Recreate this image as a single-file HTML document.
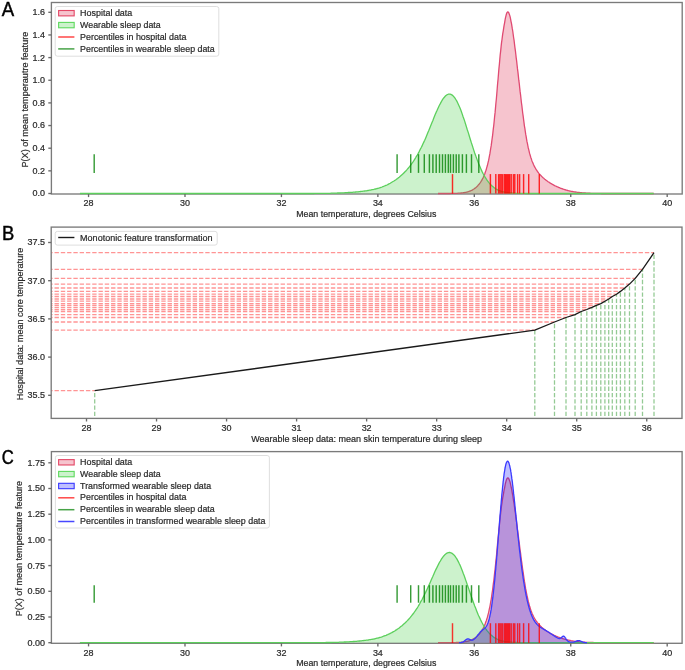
<!DOCTYPE html>
<html><head><meta charset="utf-8"><style>
html,body{margin:0;padding:0;background:#fff;}
body{width:685px;height:670px;overflow:hidden;}
svg{display:block;font-family:"Liberation Sans",sans-serif;will-change:transform;}
</style></head><body>
<svg width="685" height="670" viewBox="0 0 685 670">
<rect width="685" height="670" fill="#fff"/>
<rect x="51.4" y="2.5" width="630.8" height="191.5" fill="none" stroke="#7a7a7a" stroke-width="1.35"/>
<path d="M438.0,193.5 L438.4,193.5 L438.9,193.5 L439.3,193.5 L439.7,193.5 L440.2,193.5 L440.6,193.5 L441.0,193.5 L441.5,193.5 L441.9,193.5 L442.3,193.5 L442.8,193.5 L443.2,193.5 L443.6,193.5 L444.1,193.5 L444.5,193.5 L444.9,193.5 L445.3,193.5 L445.8,193.5 L446.2,193.5 L446.6,193.5 L447.1,193.5 L447.5,193.5 L447.9,193.5 L448.4,193.5 L448.8,193.5 L449.2,193.5 L449.7,193.5 L450.1,193.5 L450.5,193.4 L451.0,193.4 L451.4,193.4 L451.8,193.4 L452.3,193.4 L452.7,193.4 L453.1,193.4 L453.6,193.4 L454.0,193.4 L454.4,193.4 L454.9,193.4 L455.3,193.4 L455.7,193.3 L456.2,193.3 L456.6,193.3 L457.0,193.3 L457.5,193.3 L457.9,193.2 L458.3,193.2 L458.7,193.2 L459.2,193.2 L459.6,193.1 L460.0,193.1 L460.5,193.1 L460.9,193.0 L461.3,193.0 L461.8,192.9 L462.2,192.9 L462.6,192.8 L463.1,192.8 L463.5,192.7 L463.9,192.7 L464.4,192.6 L464.8,192.5 L465.2,192.4 L465.7,192.4 L466.1,192.3 L466.5,192.2 L467.0,192.1 L467.4,191.9 L467.8,191.8 L468.3,191.7 L468.7,191.6 L469.1,191.4 L469.6,191.2 L470.0,191.1 L470.4,190.9 L470.9,190.7 L471.3,190.5 L471.7,190.3 L472.1,190.1 L472.6,189.8 L473.0,189.6 L473.4,189.3 L473.9,189.0 L474.3,188.7 L474.7,188.4 L475.2,188.1 L475.6,187.7 L476.0,187.4 L476.5,187.0 L476.9,186.6 L477.3,186.2 L477.8,185.7 L478.2,185.2 L478.6,184.7 L479.1,184.2 L479.5,183.6 L479.9,183.1 L480.4,182.4 L480.8,181.8 L481.2,181.1 L481.7,180.4 L482.1,179.6 L482.5,178.8 L483.0,178.0 L483.4,177.1 L483.8,176.1 L484.3,175.1 L484.7,174.0 L485.1,172.8 L485.5,171.6 L486.0,170.3 L486.4,168.9 L486.8,167.4 L487.3,165.8 L487.7,164.1 L488.1,162.3 L488.6,160.4 L489.0,158.3 L489.4,156.1 L489.9,153.7 L490.3,151.2 L490.7,148.5 L491.2,145.7 L491.6,142.7 L492.0,139.5 L492.5,136.2 L492.9,132.6 L493.3,128.9 L493.8,125.0 L494.2,121.0 L494.6,116.8 L495.1,112.4 L495.5,107.9 L495.9,103.3 L496.4,98.5 L496.8,93.7 L497.2,88.8 L497.6,83.8 L498.1,78.8 L498.5,73.8 L498.9,68.9 L499.4,64.1 L499.8,59.4 L500.2,54.9 L500.7,50.6 L501.1,46.6 L501.5,42.9 L502.0,39.5 L502.4,36.3 L502.8,33.4 L503.3,30.6 L503.7,27.9 L504.1,25.3 L504.6,22.8 L505.0,20.4 L505.4,18.2 L505.9,16.2 L506.3,14.5 L506.7,13.2 L507.2,12.4 L507.6,11.9 L508.0,11.9 L508.5,12.3 L508.9,13.1 L509.3,14.2 L509.8,15.6 L510.2,17.2 L510.6,19.1 L511.0,21.3 L511.5,23.6 L511.9,26.1 L512.3,28.7 L512.8,31.5 L513.2,34.5 L513.6,37.5 L514.1,40.7 L514.5,44.0 L514.9,47.4 L515.4,50.8 L515.8,54.3 L516.2,57.9 L516.7,61.5 L517.1,65.2 L517.5,68.9 L518.0,72.6 L518.4,76.4 L518.8,80.2 L519.3,83.9 L519.7,87.7 L520.1,91.4 L520.6,95.2 L521.0,98.8 L521.4,102.5 L521.9,106.0 L522.3,109.5 L522.7,113.0 L523.2,116.3 L523.6,119.6 L524.0,122.7 L524.4,125.8 L524.9,128.7 L525.3,131.5 L525.7,134.2 L526.2,136.8 L526.6,139.3 L527.0,141.7 L527.5,143.9 L527.9,146.0 L528.3,148.0 L528.8,149.9 L529.2,151.7 L529.6,153.4 L530.1,155.0 L530.5,156.4 L530.9,157.8 L531.4,159.1 L531.8,160.4 L532.2,161.5 L532.7,162.6 L533.1,163.6 L533.5,164.6 L534.0,165.5 L534.4,166.4 L534.8,167.2 L535.3,168.0 L535.7,168.7 L536.1,169.4 L536.6,170.1 L537.0,170.7 L537.4,171.4 L537.8,172.0 L538.3,172.5 L538.7,173.1 L539.1,173.6 L539.6,174.1 L540.0,174.6 L540.4,175.1 L540.9,175.5 L541.3,176.0 L541.7,176.4 L542.2,176.8 L542.6,177.3 L543.0,177.7 L543.5,178.0 L543.9,178.4 L544.3,178.8 L544.8,179.2 L545.2,179.5 L545.6,179.9 L546.1,180.2 L546.5,180.5 L546.9,180.8 L547.4,181.1 L547.8,181.5 L548.2,181.8 L548.7,182.0 L549.1,182.3 L549.5,182.6 L550.0,182.9 L550.4,183.2 L550.8,183.4 L551.2,183.7 L551.7,183.9 L552.1,184.2 L552.5,184.4 L553.0,184.7 L553.4,184.9 L553.8,185.1 L554.3,185.4 L554.7,185.6 L555.1,185.8 L555.6,186.0 L556.0,186.2 L556.4,186.4 L556.9,186.6 L557.3,186.8 L557.7,187.0 L558.2,187.2 L558.6,187.4 L559.0,187.6 L559.5,187.7 L559.9,187.9 L560.3,188.1 L560.8,188.3 L561.2,188.4 L561.6,188.6 L562.1,188.7 L562.5,188.9 L562.9,189.0 L563.4,189.2 L563.8,189.3 L564.2,189.5 L564.6,189.6 L565.1,189.7 L565.5,189.9 L565.9,190.0 L566.4,190.1 L566.8,190.2 L567.2,190.4 L567.7,190.5 L568.1,190.6 L568.5,190.7 L569.0,190.8 L569.4,190.9 L569.8,191.0 L570.3,191.1 L570.7,191.2 L571.1,191.3 L571.6,191.4 L572.0,191.5 L572.4,191.5 L572.9,191.6 L573.3,191.7 L573.7,191.8 L574.2,191.8 L574.6,191.9 L575.0,192.0 L575.5,192.0 L575.9,192.1 L576.3,192.2 L576.7,192.2 L577.2,192.3 L577.6,192.3 L578.0,192.4 L578.5,192.4 L578.9,192.5 L579.3,192.5 L579.8,192.6 L580.2,192.6 L580.6,192.7 L581.1,192.7 L581.5,192.7 L581.9,192.8 L582.4,192.8 L582.8,192.9 L583.2,192.9 L583.7,192.9 L584.1,192.9 L584.5,193.0 L585.0,193.0 L585.4,193.0 L585.8,193.1 L586.3,193.1 L586.7,193.1 L587.1,193.1 L587.6,193.1 L588.0,193.2 L588.4,193.2 L588.9,193.2 L589.3,193.2 L589.7,193.2 L590.1,193.2 L590.6,193.3 L591.0,193.3 L591.4,193.3 L591.9,193.3 L592.3,193.3 L592.7,193.3 L593.2,193.3 L593.6,193.3 L594.0,193.3 L594.5,193.4 L594.9,193.4 L595.3,193.4 L595.8,193.4 L596.2,193.4 L596.6,193.4 L597.1,193.4 L597.5,193.4 L597.9,193.4 L598.4,193.4 L598.8,193.4 L599.2,193.4 L599.7,193.4 L600.1,193.4 L600.5,193.4 L601.0,193.4 L601.4,193.5 L601.8,193.5 L602.3,193.5 L602.7,193.5 L603.1,193.5 L603.5,193.5 L604.0,193.5 L604.4,193.5 L604.8,193.5 L605.3,193.5 L605.7,193.5 L606.1,193.5 L606.6,193.5 L607.0,193.5 L607.4,193.5 L607.9,193.5 L608.3,193.5 L608.7,193.5 L609.2,193.5 L609.6,193.5 L610.0,193.5 L610.5,193.5 L610.9,193.5 L611.3,193.5 L611.8,193.5 L612.2,193.5 L612.6,193.5 L613.1,193.5 L613.5,193.5 L613.9,193.5 L614.4,193.5 L614.8,193.5 L615.2,193.5 L615.7,193.5 L616.1,193.5 L616.5,193.5 L616.9,193.5 L617.4,193.5 L617.8,193.5 L618.2,193.5 L618.7,193.5 L619.1,193.5 L619.5,193.5 L620.0,193.5 L620.4,193.5 L620.8,193.5 L621.3,193.5 L621.7,193.5 L622.1,193.5 L622.6,193.5 L623.0,193.5 L623.4,193.5 L623.9,193.5 L624.3,193.5 L624.7,193.5 L625.2,193.5 L625.6,193.5 L626.0,193.5 L626.5,193.5 L626.9,193.5 L627.3,193.5 L627.8,193.5 L628.2,193.5 L628.6,193.5 L629.1,193.5 L629.5,193.5 L629.9,193.5 L630.3,193.5 L630.8,193.5 L631.2,193.5 L631.6,193.5 L632.1,193.5 L632.5,193.5 L632.9,193.5 L633.4,193.5 L633.8,193.5 L634.2,193.5 L634.7,193.5 L635.1,193.5 L635.5,193.5 L636.0,193.5 L636.4,193.5 L636.8,193.5 L637.3,193.5 L637.7,193.5 L638.1,193.5 L638.6,193.5 L639.0,193.5 L639.4,193.5 L639.9,193.5 L640.3,193.5 L640.7,193.5 L641.2,193.5 L641.6,193.5 L642.0,193.5 L642.5,193.5 L642.9,193.5 L643.3,193.5 L643.7,193.5 L644.2,193.5 L644.6,193.5 L645.0,193.5 L645.5,193.5 L645.9,193.5 L646.3,193.5 L646.8,193.5 L647.2,193.5 L647.6,193.5 L648.1,193.5 L648.5,193.5 L648.9,193.5 L649.4,193.5 L649.8,193.5 L650.2,193.5 L650.7,193.5 L651.1,193.5 L651.5,193.5 L652.0,193.5 L652.4,193.5 L652.8,193.5 L653.3,193.5 L653.7,193.5 L653.69,193.5 L438,193.5 Z" fill="#dc143c" fill-opacity="0.25" stroke="none"/>
<path d="M438.0,193.5 L438.4,193.5 L438.9,193.5 L439.3,193.5 L439.7,193.5 L440.2,193.5 L440.6,193.5 L441.0,193.5 L441.5,193.5 L441.9,193.5 L442.3,193.5 L442.8,193.5 L443.2,193.5 L443.6,193.5 L444.1,193.5 L444.5,193.5 L444.9,193.5 L445.3,193.5 L445.8,193.5 L446.2,193.5 L446.6,193.5 L447.1,193.5 L447.5,193.5 L447.9,193.5 L448.4,193.5 L448.8,193.5 L449.2,193.5 L449.7,193.5 L450.1,193.5 L450.5,193.4 L451.0,193.4 L451.4,193.4 L451.8,193.4 L452.3,193.4 L452.7,193.4 L453.1,193.4 L453.6,193.4 L454.0,193.4 L454.4,193.4 L454.9,193.4 L455.3,193.4 L455.7,193.3 L456.2,193.3 L456.6,193.3 L457.0,193.3 L457.5,193.3 L457.9,193.2 L458.3,193.2 L458.7,193.2 L459.2,193.2 L459.6,193.1 L460.0,193.1 L460.5,193.1 L460.9,193.0 L461.3,193.0 L461.8,192.9 L462.2,192.9 L462.6,192.8 L463.1,192.8 L463.5,192.7 L463.9,192.7 L464.4,192.6 L464.8,192.5 L465.2,192.4 L465.7,192.4 L466.1,192.3 L466.5,192.2 L467.0,192.1 L467.4,191.9 L467.8,191.8 L468.3,191.7 L468.7,191.6 L469.1,191.4 L469.6,191.2 L470.0,191.1 L470.4,190.9 L470.9,190.7 L471.3,190.5 L471.7,190.3 L472.1,190.1 L472.6,189.8 L473.0,189.6 L473.4,189.3 L473.9,189.0 L474.3,188.7 L474.7,188.4 L475.2,188.1 L475.6,187.7 L476.0,187.4 L476.5,187.0 L476.9,186.6 L477.3,186.2 L477.8,185.7 L478.2,185.2 L478.6,184.7 L479.1,184.2 L479.5,183.6 L479.9,183.1 L480.4,182.4 L480.8,181.8 L481.2,181.1 L481.7,180.4 L482.1,179.6 L482.5,178.8 L483.0,178.0 L483.4,177.1 L483.8,176.1 L484.3,175.1 L484.7,174.0 L485.1,172.8 L485.5,171.6 L486.0,170.3 L486.4,168.9 L486.8,167.4 L487.3,165.8 L487.7,164.1 L488.1,162.3 L488.6,160.4 L489.0,158.3 L489.4,156.1 L489.9,153.7 L490.3,151.2 L490.7,148.5 L491.2,145.7 L491.6,142.7 L492.0,139.5 L492.5,136.2 L492.9,132.6 L493.3,128.9 L493.8,125.0 L494.2,121.0 L494.6,116.8 L495.1,112.4 L495.5,107.9 L495.9,103.3 L496.4,98.5 L496.8,93.7 L497.2,88.8 L497.6,83.8 L498.1,78.8 L498.5,73.8 L498.9,68.9 L499.4,64.1 L499.8,59.4 L500.2,54.9 L500.7,50.6 L501.1,46.6 L501.5,42.9 L502.0,39.5 L502.4,36.3 L502.8,33.4 L503.3,30.6 L503.7,27.9 L504.1,25.3 L504.6,22.8 L505.0,20.4 L505.4,18.2 L505.9,16.2 L506.3,14.5 L506.7,13.2 L507.2,12.4 L507.6,11.9 L508.0,11.9 L508.5,12.3 L508.9,13.1 L509.3,14.2 L509.8,15.6 L510.2,17.2 L510.6,19.1 L511.0,21.3 L511.5,23.6 L511.9,26.1 L512.3,28.7 L512.8,31.5 L513.2,34.5 L513.6,37.5 L514.1,40.7 L514.5,44.0 L514.9,47.4 L515.4,50.8 L515.8,54.3 L516.2,57.9 L516.7,61.5 L517.1,65.2 L517.5,68.9 L518.0,72.6 L518.4,76.4 L518.8,80.2 L519.3,83.9 L519.7,87.7 L520.1,91.4 L520.6,95.2 L521.0,98.8 L521.4,102.5 L521.9,106.0 L522.3,109.5 L522.7,113.0 L523.2,116.3 L523.6,119.6 L524.0,122.7 L524.4,125.8 L524.9,128.7 L525.3,131.5 L525.7,134.2 L526.2,136.8 L526.6,139.3 L527.0,141.7 L527.5,143.9 L527.9,146.0 L528.3,148.0 L528.8,149.9 L529.2,151.7 L529.6,153.4 L530.1,155.0 L530.5,156.4 L530.9,157.8 L531.4,159.1 L531.8,160.4 L532.2,161.5 L532.7,162.6 L533.1,163.6 L533.5,164.6 L534.0,165.5 L534.4,166.4 L534.8,167.2 L535.3,168.0 L535.7,168.7 L536.1,169.4 L536.6,170.1 L537.0,170.7 L537.4,171.4 L537.8,172.0 L538.3,172.5 L538.7,173.1 L539.1,173.6 L539.6,174.1 L540.0,174.6 L540.4,175.1 L540.9,175.5 L541.3,176.0 L541.7,176.4 L542.2,176.8 L542.6,177.3 L543.0,177.7 L543.5,178.0 L543.9,178.4 L544.3,178.8 L544.8,179.2 L545.2,179.5 L545.6,179.9 L546.1,180.2 L546.5,180.5 L546.9,180.8 L547.4,181.1 L547.8,181.5 L548.2,181.8 L548.7,182.0 L549.1,182.3 L549.5,182.6 L550.0,182.9 L550.4,183.2 L550.8,183.4 L551.2,183.7 L551.7,183.9 L552.1,184.2 L552.5,184.4 L553.0,184.7 L553.4,184.9 L553.8,185.1 L554.3,185.4 L554.7,185.6 L555.1,185.8 L555.6,186.0 L556.0,186.2 L556.4,186.4 L556.9,186.6 L557.3,186.8 L557.7,187.0 L558.2,187.2 L558.6,187.4 L559.0,187.6 L559.5,187.7 L559.9,187.9 L560.3,188.1 L560.8,188.3 L561.2,188.4 L561.6,188.6 L562.1,188.7 L562.5,188.9 L562.9,189.0 L563.4,189.2 L563.8,189.3 L564.2,189.5 L564.6,189.6 L565.1,189.7 L565.5,189.9 L565.9,190.0 L566.4,190.1 L566.8,190.2 L567.2,190.4 L567.7,190.5 L568.1,190.6 L568.5,190.7 L569.0,190.8 L569.4,190.9 L569.8,191.0 L570.3,191.1 L570.7,191.2 L571.1,191.3 L571.6,191.4 L572.0,191.5 L572.4,191.5 L572.9,191.6 L573.3,191.7 L573.7,191.8 L574.2,191.8 L574.6,191.9 L575.0,192.0 L575.5,192.0 L575.9,192.1 L576.3,192.2 L576.7,192.2 L577.2,192.3 L577.6,192.3 L578.0,192.4 L578.5,192.4 L578.9,192.5 L579.3,192.5 L579.8,192.6 L580.2,192.6 L580.6,192.7 L581.1,192.7 L581.5,192.7 L581.9,192.8 L582.4,192.8 L582.8,192.9 L583.2,192.9 L583.7,192.9 L584.1,192.9 L584.5,193.0 L585.0,193.0 L585.4,193.0 L585.8,193.1 L586.3,193.1 L586.7,193.1 L587.1,193.1 L587.6,193.1 L588.0,193.2 L588.4,193.2 L588.9,193.2 L589.3,193.2 L589.7,193.2 L590.1,193.2 L590.6,193.3 L591.0,193.3 L591.4,193.3 L591.9,193.3 L592.3,193.3 L592.7,193.3 L593.2,193.3 L593.6,193.3 L594.0,193.3 L594.5,193.4 L594.9,193.4 L595.3,193.4 L595.8,193.4 L596.2,193.4 L596.6,193.4 L597.1,193.4 L597.5,193.4 L597.9,193.4 L598.4,193.4 L598.8,193.4 L599.2,193.4 L599.7,193.4 L600.1,193.4 L600.5,193.4 L601.0,193.4 L601.4,193.5 L601.8,193.5 L602.3,193.5 L602.7,193.5 L603.1,193.5 L603.5,193.5 L604.0,193.5 L604.4,193.5 L604.8,193.5 L605.3,193.5 L605.7,193.5 L606.1,193.5 L606.6,193.5 L607.0,193.5 L607.4,193.5 L607.9,193.5 L608.3,193.5 L608.7,193.5 L609.2,193.5 L609.6,193.5 L610.0,193.5 L610.5,193.5 L610.9,193.5 L611.3,193.5 L611.8,193.5 L612.2,193.5 L612.6,193.5 L613.1,193.5 L613.5,193.5 L613.9,193.5 L614.4,193.5 L614.8,193.5 L615.2,193.5 L615.7,193.5 L616.1,193.5 L616.5,193.5 L616.9,193.5 L617.4,193.5 L617.8,193.5 L618.2,193.5 L618.7,193.5 L619.1,193.5 L619.5,193.5 L620.0,193.5 L620.4,193.5 L620.8,193.5 L621.3,193.5 L621.7,193.5 L622.1,193.5 L622.6,193.5 L623.0,193.5 L623.4,193.5 L623.9,193.5 L624.3,193.5 L624.7,193.5 L625.2,193.5 L625.6,193.5 L626.0,193.5 L626.5,193.5 L626.9,193.5 L627.3,193.5 L627.8,193.5 L628.2,193.5 L628.6,193.5 L629.1,193.5 L629.5,193.5 L629.9,193.5 L630.3,193.5 L630.8,193.5 L631.2,193.5 L631.6,193.5 L632.1,193.5 L632.5,193.5 L632.9,193.5 L633.4,193.5 L633.8,193.5 L634.2,193.5 L634.7,193.5 L635.1,193.5 L635.5,193.5 L636.0,193.5 L636.4,193.5 L636.8,193.5 L637.3,193.5 L637.7,193.5 L638.1,193.5 L638.6,193.5 L639.0,193.5 L639.4,193.5 L639.9,193.5 L640.3,193.5 L640.7,193.5 L641.2,193.5 L641.6,193.5 L642.0,193.5 L642.5,193.5 L642.9,193.5 L643.3,193.5 L643.7,193.5 L644.2,193.5 L644.6,193.5 L645.0,193.5 L645.5,193.5 L645.9,193.5 L646.3,193.5 L646.8,193.5 L647.2,193.5 L647.6,193.5 L648.1,193.5 L648.5,193.5 L648.9,193.5 L649.4,193.5 L649.8,193.5 L650.2,193.5 L650.7,193.5 L651.1,193.5 L651.5,193.5 L652.0,193.5 L652.4,193.5 L652.8,193.5 L653.3,193.5 L653.7,193.5" fill="none" stroke="#e04a72" stroke-width="1.3" stroke-opacity="1.0" stroke-linejoin="round"/>
<path d="M79.9,193.5 L80.7,193.5 L81.5,193.5 L82.3,193.5 L83.2,193.5 L84.0,193.5 L84.8,193.5 L85.6,193.5 L86.4,193.5 L87.3,193.5 L88.1,193.5 L88.9,193.5 L89.7,193.5 L90.5,193.5 L91.4,193.5 L92.2,193.5 L93.0,193.5 L93.8,193.5 L94.6,193.5 L95.5,193.5 L96.3,193.5 L97.1,193.5 L97.9,193.5 L98.8,193.5 L99.6,193.5 L100.4,193.5 L101.2,193.5 L102.0,193.5 L102.9,193.5 L103.7,193.5 L104.5,193.5 L105.3,193.5 L106.1,193.5 L107.0,193.5 L107.8,193.5 L108.6,193.5 L109.4,193.5 L110.2,193.5 L111.1,193.5 L111.9,193.5 L112.7,193.5 L113.5,193.5 L114.3,193.5 L115.2,193.5 L116.0,193.5 L116.8,193.5 L117.6,193.5 L118.5,193.5 L119.3,193.5 L120.1,193.5 L120.9,193.5 L121.7,193.5 L122.6,193.5 L123.4,193.5 L124.2,193.5 L125.0,193.5 L125.8,193.5 L126.7,193.5 L127.5,193.5 L128.3,193.5 L129.1,193.5 L129.9,193.5 L130.8,193.5 L131.6,193.5 L132.4,193.5 L133.2,193.5 L134.1,193.5 L134.9,193.5 L135.7,193.5 L136.5,193.5 L137.3,193.5 L138.2,193.5 L139.0,193.5 L139.8,193.5 L140.6,193.5 L141.4,193.5 L142.3,193.5 L143.1,193.5 L143.9,193.5 L144.7,193.5 L145.5,193.5 L146.4,193.5 L147.2,193.5 L148.0,193.5 L148.8,193.5 L149.6,193.5 L150.5,193.5 L151.3,193.5 L152.1,193.5 L152.9,193.5 L153.8,193.5 L154.6,193.5 L155.4,193.5 L156.2,193.5 L157.0,193.5 L157.9,193.5 L158.7,193.5 L159.5,193.5 L160.3,193.5 L161.1,193.5 L162.0,193.5 L162.8,193.5 L163.6,193.5 L164.4,193.5 L165.2,193.5 L166.1,193.5 L166.9,193.5 L167.7,193.5 L168.5,193.5 L169.3,193.5 L170.2,193.5 L171.0,193.5 L171.8,193.5 L172.6,193.5 L173.5,193.5 L174.3,193.5 L175.1,193.5 L175.9,193.5 L176.7,193.5 L177.6,193.5 L178.4,193.5 L179.2,193.5 L180.0,193.5 L180.8,193.5 L181.7,193.5 L182.5,193.5 L183.3,193.5 L184.1,193.5 L184.9,193.5 L185.8,193.5 L186.6,193.5 L187.4,193.5 L188.2,193.5 L189.1,193.5 L189.9,193.5 L190.7,193.5 L191.5,193.5 L192.3,193.5 L193.2,193.5 L194.0,193.5 L194.8,193.5 L195.6,193.5 L196.4,193.5 L197.3,193.5 L198.1,193.5 L198.9,193.5 L199.7,193.5 L200.5,193.5 L201.4,193.5 L202.2,193.5 L203.0,193.5 L203.8,193.5 L204.6,193.5 L205.5,193.5 L206.3,193.5 L207.1,193.5 L207.9,193.5 L208.8,193.5 L209.6,193.5 L210.4,193.5 L211.2,193.5 L212.0,193.5 L212.9,193.5 L213.7,193.5 L214.5,193.5 L215.3,193.5 L216.1,193.5 L217.0,193.5 L217.8,193.5 L218.6,193.5 L219.4,193.5 L220.2,193.5 L221.1,193.5 L221.9,193.5 L222.7,193.5 L223.5,193.5 L224.4,193.5 L225.2,193.5 L226.0,193.5 L226.8,193.5 L227.6,193.5 L228.5,193.5 L229.3,193.5 L230.1,193.5 L230.9,193.5 L231.7,193.5 L232.6,193.5 L233.4,193.5 L234.2,193.5 L235.0,193.5 L235.8,193.5 L236.7,193.5 L237.5,193.5 L238.3,193.5 L239.1,193.5 L239.9,193.5 L240.8,193.5 L241.6,193.5 L242.4,193.5 L243.2,193.5 L244.1,193.5 L244.9,193.5 L245.7,193.5 L246.5,193.5 L247.3,193.5 L248.2,193.5 L249.0,193.5 L249.8,193.5 L250.6,193.5 L251.4,193.5 L252.3,193.5 L253.1,193.5 L253.9,193.5 L254.7,193.5 L255.5,193.5 L256.4,193.5 L257.2,193.5 L258.0,193.5 L258.8,193.5 L259.7,193.5 L260.5,193.5 L261.3,193.5 L262.1,193.5 L262.9,193.5 L263.8,193.5 L264.6,193.5 L265.4,193.5 L266.2,193.5 L267.0,193.5 L267.9,193.5 L268.7,193.5 L269.5,193.5 L270.3,193.5 L271.1,193.5 L272.0,193.5 L272.8,193.5 L273.6,193.5 L274.4,193.5 L275.2,193.5 L276.1,193.5 L276.9,193.5 L277.7,193.5 L278.5,193.5 L279.4,193.5 L280.2,193.5 L281.0,193.5 L281.8,193.5 L282.6,193.5 L283.5,193.5 L284.3,193.5 L285.1,193.5 L285.9,193.5 L286.7,193.5 L287.6,193.5 L288.4,193.5 L289.2,193.5 L290.0,193.5 L290.8,193.5 L291.7,193.5 L292.5,193.5 L293.3,193.5 L294.1,193.5 L294.9,193.5 L295.8,193.5 L296.6,193.5 L297.4,193.5 L298.2,193.5 L299.1,193.5 L299.9,193.5 L300.7,193.5 L301.5,193.5 L302.3,193.5 L303.2,193.5 L304.0,193.5 L304.8,193.5 L305.6,193.5 L306.4,193.5 L307.3,193.5 L308.1,193.5 L308.9,193.5 L309.7,193.5 L310.5,193.5 L311.4,193.5 L312.2,193.5 L313.0,193.5 L313.8,193.5 L314.7,193.4 L315.5,193.4 L316.3,193.4 L317.1,193.4 L317.9,193.4 L318.8,193.4 L319.6,193.4 L320.4,193.4 L321.2,193.4 L322.0,193.4 L322.9,193.4 L323.7,193.4 L324.5,193.4 L325.3,193.3 L326.1,193.3 L327.0,193.3 L327.8,193.3 L328.6,193.3 L329.4,193.3 L330.2,193.3 L331.1,193.2 L331.9,193.2 L332.7,193.2 L333.5,193.2 L334.4,193.1 L335.2,193.1 L336.0,193.1 L336.8,193.1 L337.6,193.0 L338.5,193.0 L339.3,193.0 L340.1,193.0 L340.9,192.9 L341.7,192.9 L342.6,192.8 L343.4,192.8 L344.2,192.8 L345.0,192.7 L345.8,192.7 L346.7,192.6 L347.5,192.6 L348.3,192.5 L349.1,192.5 L350.0,192.4 L350.8,192.4 L351.6,192.3 L352.4,192.3 L353.2,192.2 L354.1,192.1 L354.9,192.1 L355.7,192.0 L356.5,191.9 L357.3,191.8 L358.2,191.8 L359.0,191.7 L359.8,191.6 L360.6,191.5 L361.4,191.4 L362.3,191.3 L363.1,191.2 L363.9,191.1 L364.7,191.0 L365.5,190.9 L366.4,190.8 L367.2,190.6 L368.0,190.5 L368.8,190.4 L369.7,190.2 L370.5,190.1 L371.3,189.9 L372.1,189.7 L372.9,189.6 L373.8,189.4 L374.6,189.2 L375.4,189.0 L376.2,188.8 L377.0,188.5 L377.9,188.3 L378.7,188.1 L379.5,187.8 L380.3,187.6 L381.1,187.3 L382.0,187.0 L382.8,186.7 L383.6,186.4 L384.4,186.0 L385.2,185.7 L386.1,185.3 L386.9,185.0 L387.7,184.6 L388.5,184.1 L389.4,183.7 L390.2,183.3 L391.0,182.8 L391.8,182.3 L392.6,181.8 L393.5,181.3 L394.3,180.8 L395.1,180.2 L395.9,179.7 L396.7,179.1 L397.6,178.5 L398.4,177.8 L399.2,177.2 L400.0,176.5 L400.8,175.8 L401.7,175.0 L402.5,174.3 L403.3,173.5 L404.1,172.7 L405.0,171.8 L405.8,171.0 L406.6,170.1 L407.4,169.1 L408.2,168.2 L409.1,167.2 L409.9,166.1 L410.7,165.1 L411.5,164.0 L412.3,162.8 L413.2,161.6 L414.0,160.4 L414.8,159.1 L415.6,157.8 L416.4,156.4 L417.3,155.0 L418.1,153.6 L418.9,152.1 L419.7,150.5 L420.5,148.9 L421.4,147.3 L422.2,145.6 L423.0,143.8 L423.8,142.1 L424.7,140.2 L425.5,138.4 L426.3,136.5 L427.1,134.5 L427.9,132.5 L428.8,130.5 L429.6,128.5 L430.4,126.5 L431.2,124.4 L432.0,122.4 L432.9,120.4 L433.7,118.3 L434.5,116.3 L435.3,114.3 L436.1,112.4 L437.0,110.5 L437.8,108.7 L438.6,106.9 L439.4,105.2 L440.3,103.6 L441.1,102.1 L441.9,100.7 L442.7,99.4 L443.5,98.2 L444.4,97.2 L445.2,96.3 L446.0,95.5 L446.8,94.9 L447.6,94.5 L448.5,94.2 L449.3,94.1 L450.1,94.2 L450.9,94.4 L451.7,94.8 L452.6,95.4 L453.4,96.2 L454.2,97.1 L455.0,98.2 L455.8,99.5 L456.7,100.9 L457.5,102.5 L458.3,104.2 L459.1,106.0 L460.0,108.0 L460.8,110.1 L461.6,112.3 L462.4,114.6 L463.2,117.0 L464.1,119.4 L464.9,121.9 L465.7,124.5 L466.5,127.1 L467.3,129.7 L468.2,132.4 L469.0,135.0 L469.8,137.7 L470.6,140.3 L471.4,142.9 L472.3,145.5 L473.1,148.1 L473.9,150.6 L474.7,153.0 L475.6,155.4 L476.4,157.7 L477.2,159.9 L478.0,162.1 L478.8,164.1 L479.7,166.1 L480.5,168.0 L481.3,169.9 L482.1,171.6 L482.9,173.2 L483.8,174.8 L484.6,176.3 L485.4,177.6 L486.2,178.9 L487.0,180.2 L487.9,181.3 L488.7,182.4 L489.5,183.4 L490.3,184.3 L491.1,185.1 L492.0,185.9 L492.8,186.6 L493.6,187.3 L494.4,187.9 L495.3,188.5 L496.1,189.0 L496.9,189.4 L497.7,189.9 L498.5,190.3 L499.4,190.6 L500.2,190.9 L501.0,191.2 L501.8,191.5 L502.6,191.7 L503.5,191.9 L504.3,192.1 L505.1,192.2 L505.9,192.4 L506.7,192.5 L507.6,192.6 L508.4,192.7 L509.2,192.8 L510.0,192.9 L510.8,193.0 L511.7,193.0 L512.5,193.1 L513.3,193.2 L514.1,193.2 L515.0,193.2 L515.8,193.3 L516.6,193.3 L517.4,193.3 L518.2,193.3 L519.1,193.4 L519.9,193.4 L520.7,193.4 L521.5,193.4 L522.3,193.4 L523.2,193.4 L524.0,193.4 L524.8,193.4 L525.6,193.5 L526.4,193.5 L527.3,193.5 L528.1,193.5 L528.9,193.5 L529.7,193.5 L530.6,193.5 L531.4,193.5 L532.2,193.5 L533.0,193.5 L533.8,193.5 L534.7,193.5 L535.5,193.5 L536.3,193.5 L537.1,193.5 L537.9,193.5 L538.8,193.5 L539.6,193.5 L540.4,193.5 L541.2,193.5 L542.0,193.5 L542.9,193.5 L543.7,193.5 L544.5,193.5 L545.3,193.5 L546.1,193.5 L547.0,193.5 L547.8,193.5 L548.6,193.5 L549.4,193.5 L550.3,193.5 L551.1,193.5 L551.9,193.5 L552.7,193.5 L553.5,193.5 L554.4,193.5 L555.2,193.5 L556.0,193.5 L556.8,193.5 L557.6,193.5 L558.5,193.5 L559.3,193.5 L560.1,193.5 L560.9,193.5 L561.7,193.5 L562.6,193.5 L563.4,193.5 L564.2,193.5 L565.0,193.5 L565.9,193.5 L566.7,193.5 L567.5,193.5 L568.3,193.5 L569.1,193.5 L570.0,193.5 L570.8,193.5 L571.6,193.5 L572.4,193.5 L573.2,193.5 L574.1,193.5 L574.9,193.5 L575.7,193.5 L576.5,193.5 L577.3,193.5 L578.2,193.5 L579.0,193.5 L579.8,193.5 L580.6,193.5 L581.4,193.5 L582.3,193.5 L583.1,193.5 L583.9,193.5 L584.7,193.5 L585.6,193.5 L586.4,193.5 L587.2,193.5 L588.0,193.5 L588.8,193.5 L589.7,193.5 L590.5,193.5 L591.3,193.5 L592.1,193.5 L592.9,193.5 L593.8,193.5 L594.6,193.5 L595.4,193.5 L596.2,193.5 L597.0,193.5 L597.9,193.5 L598.7,193.5 L599.5,193.5 L600.3,193.5 L601.1,193.5 L602.0,193.5 L602.8,193.5 L603.6,193.5 L604.4,193.5 L605.3,193.5 L606.1,193.5 L606.9,193.5 L607.7,193.5 L608.5,193.5 L609.4,193.5 L610.2,193.5 L611.0,193.5 L611.8,193.5 L612.6,193.5 L613.5,193.5 L614.3,193.5 L615.1,193.5 L615.9,193.5 L616.7,193.5 L617.6,193.5 L618.4,193.5 L619.2,193.5 L620.0,193.5 L620.9,193.5 L621.7,193.5 L622.5,193.5 L623.3,193.5 L624.1,193.5 L625.0,193.5 L625.8,193.5 L626.6,193.5 L627.4,193.5 L628.2,193.5 L629.1,193.5 L629.9,193.5 L630.7,193.5 L631.5,193.5 L632.3,193.5 L633.2,193.5 L634.0,193.5 L634.8,193.5 L635.6,193.5 L636.4,193.5 L637.3,193.5 L638.1,193.5 L638.9,193.5 L639.7,193.5 L640.6,193.5 L641.4,193.5 L642.2,193.5 L643.0,193.5 L643.8,193.5 L644.7,193.5 L645.5,193.5 L646.3,193.5 L647.1,193.5 L647.9,193.5 L648.8,193.5 L649.6,193.5 L650.4,193.5 L651.2,193.5 L652.0,193.5 L652.9,193.5 L653.7,193.5 L653.69,193.5 L79.87,193.5 Z" fill="#32cd32" fill-opacity="0.25" stroke="none"/>
<path d="M79.9,193.5 L80.7,193.5 L81.5,193.5 L82.3,193.5 L83.2,193.5 L84.0,193.5 L84.8,193.5 L85.6,193.5 L86.4,193.5 L87.3,193.5 L88.1,193.5 L88.9,193.5 L89.7,193.5 L90.5,193.5 L91.4,193.5 L92.2,193.5 L93.0,193.5 L93.8,193.5 L94.6,193.5 L95.5,193.5 L96.3,193.5 L97.1,193.5 L97.9,193.5 L98.8,193.5 L99.6,193.5 L100.4,193.5 L101.2,193.5 L102.0,193.5 L102.9,193.5 L103.7,193.5 L104.5,193.5 L105.3,193.5 L106.1,193.5 L107.0,193.5 L107.8,193.5 L108.6,193.5 L109.4,193.5 L110.2,193.5 L111.1,193.5 L111.9,193.5 L112.7,193.5 L113.5,193.5 L114.3,193.5 L115.2,193.5 L116.0,193.5 L116.8,193.5 L117.6,193.5 L118.5,193.5 L119.3,193.5 L120.1,193.5 L120.9,193.5 L121.7,193.5 L122.6,193.5 L123.4,193.5 L124.2,193.5 L125.0,193.5 L125.8,193.5 L126.7,193.5 L127.5,193.5 L128.3,193.5 L129.1,193.5 L129.9,193.5 L130.8,193.5 L131.6,193.5 L132.4,193.5 L133.2,193.5 L134.1,193.5 L134.9,193.5 L135.7,193.5 L136.5,193.5 L137.3,193.5 L138.2,193.5 L139.0,193.5 L139.8,193.5 L140.6,193.5 L141.4,193.5 L142.3,193.5 L143.1,193.5 L143.9,193.5 L144.7,193.5 L145.5,193.5 L146.4,193.5 L147.2,193.5 L148.0,193.5 L148.8,193.5 L149.6,193.5 L150.5,193.5 L151.3,193.5 L152.1,193.5 L152.9,193.5 L153.8,193.5 L154.6,193.5 L155.4,193.5 L156.2,193.5 L157.0,193.5 L157.9,193.5 L158.7,193.5 L159.5,193.5 L160.3,193.5 L161.1,193.5 L162.0,193.5 L162.8,193.5 L163.6,193.5 L164.4,193.5 L165.2,193.5 L166.1,193.5 L166.9,193.5 L167.7,193.5 L168.5,193.5 L169.3,193.5 L170.2,193.5 L171.0,193.5 L171.8,193.5 L172.6,193.5 L173.5,193.5 L174.3,193.5 L175.1,193.5 L175.9,193.5 L176.7,193.5 L177.6,193.5 L178.4,193.5 L179.2,193.5 L180.0,193.5 L180.8,193.5 L181.7,193.5 L182.5,193.5 L183.3,193.5 L184.1,193.5 L184.9,193.5 L185.8,193.5 L186.6,193.5 L187.4,193.5 L188.2,193.5 L189.1,193.5 L189.9,193.5 L190.7,193.5 L191.5,193.5 L192.3,193.5 L193.2,193.5 L194.0,193.5 L194.8,193.5 L195.6,193.5 L196.4,193.5 L197.3,193.5 L198.1,193.5 L198.9,193.5 L199.7,193.5 L200.5,193.5 L201.4,193.5 L202.2,193.5 L203.0,193.5 L203.8,193.5 L204.6,193.5 L205.5,193.5 L206.3,193.5 L207.1,193.5 L207.9,193.5 L208.8,193.5 L209.6,193.5 L210.4,193.5 L211.2,193.5 L212.0,193.5 L212.9,193.5 L213.7,193.5 L214.5,193.5 L215.3,193.5 L216.1,193.5 L217.0,193.5 L217.8,193.5 L218.6,193.5 L219.4,193.5 L220.2,193.5 L221.1,193.5 L221.9,193.5 L222.7,193.5 L223.5,193.5 L224.4,193.5 L225.2,193.5 L226.0,193.5 L226.8,193.5 L227.6,193.5 L228.5,193.5 L229.3,193.5 L230.1,193.5 L230.9,193.5 L231.7,193.5 L232.6,193.5 L233.4,193.5 L234.2,193.5 L235.0,193.5 L235.8,193.5 L236.7,193.5 L237.5,193.5 L238.3,193.5 L239.1,193.5 L239.9,193.5 L240.8,193.5 L241.6,193.5 L242.4,193.5 L243.2,193.5 L244.1,193.5 L244.9,193.5 L245.7,193.5 L246.5,193.5 L247.3,193.5 L248.2,193.5 L249.0,193.5 L249.8,193.5 L250.6,193.5 L251.4,193.5 L252.3,193.5 L253.1,193.5 L253.9,193.5 L254.7,193.5 L255.5,193.5 L256.4,193.5 L257.2,193.5 L258.0,193.5 L258.8,193.5 L259.7,193.5 L260.5,193.5 L261.3,193.5 L262.1,193.5 L262.9,193.5 L263.8,193.5 L264.6,193.5 L265.4,193.5 L266.2,193.5 L267.0,193.5 L267.9,193.5 L268.7,193.5 L269.5,193.5 L270.3,193.5 L271.1,193.5 L272.0,193.5 L272.8,193.5 L273.6,193.5 L274.4,193.5 L275.2,193.5 L276.1,193.5 L276.9,193.5 L277.7,193.5 L278.5,193.5 L279.4,193.5 L280.2,193.5 L281.0,193.5 L281.8,193.5 L282.6,193.5 L283.5,193.5 L284.3,193.5 L285.1,193.5 L285.9,193.5 L286.7,193.5 L287.6,193.5 L288.4,193.5 L289.2,193.5 L290.0,193.5 L290.8,193.5 L291.7,193.5 L292.5,193.5 L293.3,193.5 L294.1,193.5 L294.9,193.5 L295.8,193.5 L296.6,193.5 L297.4,193.5 L298.2,193.5 L299.1,193.5 L299.9,193.5 L300.7,193.5 L301.5,193.5 L302.3,193.5 L303.2,193.5 L304.0,193.5 L304.8,193.5 L305.6,193.5 L306.4,193.5 L307.3,193.5 L308.1,193.5 L308.9,193.5 L309.7,193.5 L310.5,193.5 L311.4,193.5 L312.2,193.5 L313.0,193.5 L313.8,193.5 L314.7,193.4 L315.5,193.4 L316.3,193.4 L317.1,193.4 L317.9,193.4 L318.8,193.4 L319.6,193.4 L320.4,193.4 L321.2,193.4 L322.0,193.4 L322.9,193.4 L323.7,193.4 L324.5,193.4 L325.3,193.3 L326.1,193.3 L327.0,193.3 L327.8,193.3 L328.6,193.3 L329.4,193.3 L330.2,193.3 L331.1,193.2 L331.9,193.2 L332.7,193.2 L333.5,193.2 L334.4,193.1 L335.2,193.1 L336.0,193.1 L336.8,193.1 L337.6,193.0 L338.5,193.0 L339.3,193.0 L340.1,193.0 L340.9,192.9 L341.7,192.9 L342.6,192.8 L343.4,192.8 L344.2,192.8 L345.0,192.7 L345.8,192.7 L346.7,192.6 L347.5,192.6 L348.3,192.5 L349.1,192.5 L350.0,192.4 L350.8,192.4 L351.6,192.3 L352.4,192.3 L353.2,192.2 L354.1,192.1 L354.9,192.1 L355.7,192.0 L356.5,191.9 L357.3,191.8 L358.2,191.8 L359.0,191.7 L359.8,191.6 L360.6,191.5 L361.4,191.4 L362.3,191.3 L363.1,191.2 L363.9,191.1 L364.7,191.0 L365.5,190.9 L366.4,190.8 L367.2,190.6 L368.0,190.5 L368.8,190.4 L369.7,190.2 L370.5,190.1 L371.3,189.9 L372.1,189.7 L372.9,189.6 L373.8,189.4 L374.6,189.2 L375.4,189.0 L376.2,188.8 L377.0,188.5 L377.9,188.3 L378.7,188.1 L379.5,187.8 L380.3,187.6 L381.1,187.3 L382.0,187.0 L382.8,186.7 L383.6,186.4 L384.4,186.0 L385.2,185.7 L386.1,185.3 L386.9,185.0 L387.7,184.6 L388.5,184.1 L389.4,183.7 L390.2,183.3 L391.0,182.8 L391.8,182.3 L392.6,181.8 L393.5,181.3 L394.3,180.8 L395.1,180.2 L395.9,179.7 L396.7,179.1 L397.6,178.5 L398.4,177.8 L399.2,177.2 L400.0,176.5 L400.8,175.8 L401.7,175.0 L402.5,174.3 L403.3,173.5 L404.1,172.7 L405.0,171.8 L405.8,171.0 L406.6,170.1 L407.4,169.1 L408.2,168.2 L409.1,167.2 L409.9,166.1 L410.7,165.1 L411.5,164.0 L412.3,162.8 L413.2,161.6 L414.0,160.4 L414.8,159.1 L415.6,157.8 L416.4,156.4 L417.3,155.0 L418.1,153.6 L418.9,152.1 L419.7,150.5 L420.5,148.9 L421.4,147.3 L422.2,145.6 L423.0,143.8 L423.8,142.1 L424.7,140.2 L425.5,138.4 L426.3,136.5 L427.1,134.5 L427.9,132.5 L428.8,130.5 L429.6,128.5 L430.4,126.5 L431.2,124.4 L432.0,122.4 L432.9,120.4 L433.7,118.3 L434.5,116.3 L435.3,114.3 L436.1,112.4 L437.0,110.5 L437.8,108.7 L438.6,106.9 L439.4,105.2 L440.3,103.6 L441.1,102.1 L441.9,100.7 L442.7,99.4 L443.5,98.2 L444.4,97.2 L445.2,96.3 L446.0,95.5 L446.8,94.9 L447.6,94.5 L448.5,94.2 L449.3,94.1 L450.1,94.2 L450.9,94.4 L451.7,94.8 L452.6,95.4 L453.4,96.2 L454.2,97.1 L455.0,98.2 L455.8,99.5 L456.7,100.9 L457.5,102.5 L458.3,104.2 L459.1,106.0 L460.0,108.0 L460.8,110.1 L461.6,112.3 L462.4,114.6 L463.2,117.0 L464.1,119.4 L464.9,121.9 L465.7,124.5 L466.5,127.1 L467.3,129.7 L468.2,132.4 L469.0,135.0 L469.8,137.7 L470.6,140.3 L471.4,142.9 L472.3,145.5 L473.1,148.1 L473.9,150.6 L474.7,153.0 L475.6,155.4 L476.4,157.7 L477.2,159.9 L478.0,162.1 L478.8,164.1 L479.7,166.1 L480.5,168.0 L481.3,169.9 L482.1,171.6 L482.9,173.2 L483.8,174.8 L484.6,176.3 L485.4,177.6 L486.2,178.9 L487.0,180.2 L487.9,181.3 L488.7,182.4 L489.5,183.4 L490.3,184.3 L491.1,185.1 L492.0,185.9 L492.8,186.6 L493.6,187.3 L494.4,187.9 L495.3,188.5 L496.1,189.0 L496.9,189.4 L497.7,189.9 L498.5,190.3 L499.4,190.6 L500.2,190.9 L501.0,191.2 L501.8,191.5 L502.6,191.7 L503.5,191.9 L504.3,192.1 L505.1,192.2 L505.9,192.4 L506.7,192.5 L507.6,192.6 L508.4,192.7 L509.2,192.8 L510.0,192.9 L510.8,193.0 L511.7,193.0 L512.5,193.1 L513.3,193.2 L514.1,193.2 L515.0,193.2 L515.8,193.3 L516.6,193.3 L517.4,193.3 L518.2,193.3 L519.1,193.4 L519.9,193.4 L520.7,193.4 L521.5,193.4 L522.3,193.4 L523.2,193.4 L524.0,193.4 L524.8,193.4 L525.6,193.5 L526.4,193.5 L527.3,193.5 L528.1,193.5 L528.9,193.5 L529.7,193.5 L530.6,193.5 L531.4,193.5 L532.2,193.5 L533.0,193.5 L533.8,193.5 L534.7,193.5 L535.5,193.5 L536.3,193.5 L537.1,193.5 L537.9,193.5 L538.8,193.5 L539.6,193.5 L540.4,193.5 L541.2,193.5 L542.0,193.5 L542.9,193.5 L543.7,193.5 L544.5,193.5 L545.3,193.5 L546.1,193.5 L547.0,193.5 L547.8,193.5 L548.6,193.5 L549.4,193.5 L550.3,193.5 L551.1,193.5 L551.9,193.5 L552.7,193.5 L553.5,193.5 L554.4,193.5 L555.2,193.5 L556.0,193.5 L556.8,193.5 L557.6,193.5 L558.5,193.5 L559.3,193.5 L560.1,193.5 L560.9,193.5 L561.7,193.5 L562.6,193.5 L563.4,193.5 L564.2,193.5 L565.0,193.5 L565.9,193.5 L566.7,193.5 L567.5,193.5 L568.3,193.5 L569.1,193.5 L570.0,193.5 L570.8,193.5 L571.6,193.5 L572.4,193.5 L573.2,193.5 L574.1,193.5 L574.9,193.5 L575.7,193.5 L576.5,193.5 L577.3,193.5 L578.2,193.5 L579.0,193.5 L579.8,193.5 L580.6,193.5 L581.4,193.5 L582.3,193.5 L583.1,193.5 L583.9,193.5 L584.7,193.5 L585.6,193.5 L586.4,193.5 L587.2,193.5 L588.0,193.5 L588.8,193.5 L589.7,193.5 L590.5,193.5 L591.3,193.5 L592.1,193.5 L592.9,193.5 L593.8,193.5 L594.6,193.5 L595.4,193.5 L596.2,193.5 L597.0,193.5 L597.9,193.5 L598.7,193.5 L599.5,193.5 L600.3,193.5 L601.1,193.5 L602.0,193.5 L602.8,193.5 L603.6,193.5 L604.4,193.5 L605.3,193.5 L606.1,193.5 L606.9,193.5 L607.7,193.5 L608.5,193.5 L609.4,193.5 L610.2,193.5 L611.0,193.5 L611.8,193.5 L612.6,193.5 L613.5,193.5 L614.3,193.5 L615.1,193.5 L615.9,193.5 L616.7,193.5 L617.6,193.5 L618.4,193.5 L619.2,193.5 L620.0,193.5 L620.9,193.5 L621.7,193.5 L622.5,193.5 L623.3,193.5 L624.1,193.5 L625.0,193.5 L625.8,193.5 L626.6,193.5 L627.4,193.5 L628.2,193.5 L629.1,193.5 L629.9,193.5 L630.7,193.5 L631.5,193.5 L632.3,193.5 L633.2,193.5 L634.0,193.5 L634.8,193.5 L635.6,193.5 L636.4,193.5 L637.3,193.5 L638.1,193.5 L638.9,193.5 L639.7,193.5 L640.6,193.5 L641.4,193.5 L642.2,193.5 L643.0,193.5 L643.8,193.5 L644.7,193.5 L645.5,193.5 L646.3,193.5 L647.1,193.5 L647.9,193.5 L648.8,193.5 L649.6,193.5 L650.4,193.5 L651.2,193.5 L652.0,193.5 L652.9,193.5 L653.7,193.5" fill="none" stroke="#5ccf5c" stroke-width="1.3" stroke-opacity="1.0" stroke-linejoin="round"/>
<line x1="452.5" y1="174.1" x2="452.5" y2="193.6" stroke="#ff0000" stroke-width="1.45" stroke-opacity="0.82"/>
<line x1="490.4" y1="174.1" x2="490.4" y2="193.6" stroke="#ff0000" stroke-width="1.45" stroke-opacity="0.82"/>
<line x1="495.8" y1="174.1" x2="495.8" y2="193.6" stroke="#ff0000" stroke-width="1.45" stroke-opacity="0.82"/>
<line x1="498.6" y1="174.1" x2="498.6" y2="193.6" stroke="#ff0000" stroke-width="1.45" stroke-opacity="0.82"/>
<line x1="499.9" y1="174.1" x2="499.9" y2="193.6" stroke="#ff0000" stroke-width="1.45" stroke-opacity="0.82"/>
<line x1="501.1" y1="174.1" x2="501.1" y2="193.6" stroke="#ff0000" stroke-width="1.45" stroke-opacity="0.82"/>
<line x1="502.4" y1="174.1" x2="502.4" y2="193.6" stroke="#ff0000" stroke-width="1.45" stroke-opacity="0.82"/>
<line x1="504.2" y1="174.1" x2="504.2" y2="193.6" stroke="#ff0000" stroke-width="1.45" stroke-opacity="0.82"/>
<line x1="505.3" y1="174.1" x2="505.3" y2="193.6" stroke="#ff0000" stroke-width="1.45" stroke-opacity="0.82"/>
<line x1="506.4" y1="174.1" x2="506.4" y2="193.6" stroke="#ff0000" stroke-width="1.45" stroke-opacity="0.82"/>
<line x1="507.5" y1="174.1" x2="507.5" y2="193.6" stroke="#ff0000" stroke-width="1.45" stroke-opacity="0.82"/>
<line x1="508.6" y1="174.1" x2="508.6" y2="193.6" stroke="#ff0000" stroke-width="1.45" stroke-opacity="0.82"/>
<line x1="509.7" y1="174.1" x2="509.7" y2="193.6" stroke="#ff0000" stroke-width="1.45" stroke-opacity="0.82"/>
<line x1="511.2" y1="174.1" x2="511.2" y2="193.6" stroke="#ff0000" stroke-width="1.45" stroke-opacity="0.82"/>
<line x1="513.4" y1="174.1" x2="513.4" y2="193.6" stroke="#ff0000" stroke-width="1.45" stroke-opacity="0.82"/>
<line x1="514.8" y1="174.1" x2="514.8" y2="193.6" stroke="#ff0000" stroke-width="1.45" stroke-opacity="0.82"/>
<line x1="517.6" y1="174.1" x2="517.6" y2="193.6" stroke="#ff0000" stroke-width="1.45" stroke-opacity="0.82"/>
<line x1="519.6" y1="174.1" x2="519.6" y2="193.6" stroke="#ff0000" stroke-width="1.45" stroke-opacity="0.82"/>
<line x1="523.6" y1="174.1" x2="523.6" y2="193.6" stroke="#ff0000" stroke-width="1.45" stroke-opacity="0.82"/>
<line x1="528.7" y1="174.1" x2="528.7" y2="193.6" stroke="#ff0000" stroke-width="1.45" stroke-opacity="0.82"/>
<line x1="539.3" y1="174.1" x2="539.3" y2="193.6" stroke="#ff0000" stroke-width="1.45" stroke-opacity="0.82"/>
<line x1="94.2" y1="154.2" x2="94.2" y2="172.9" stroke="#008000" stroke-width="1.45" stroke-opacity="0.78"/>
<line x1="397.1" y1="154.2" x2="397.1" y2="172.9" stroke="#008000" stroke-width="1.45" stroke-opacity="0.78"/>
<line x1="410.7" y1="154.2" x2="410.7" y2="172.9" stroke="#008000" stroke-width="1.45" stroke-opacity="0.78"/>
<line x1="418.5" y1="154.2" x2="418.5" y2="172.9" stroke="#008000" stroke-width="1.45" stroke-opacity="0.78"/>
<line x1="424.3" y1="154.2" x2="424.3" y2="172.9" stroke="#008000" stroke-width="1.45" stroke-opacity="0.78"/>
<line x1="429.4" y1="154.2" x2="429.4" y2="172.9" stroke="#008000" stroke-width="1.45" stroke-opacity="0.78"/>
<line x1="432.9" y1="154.2" x2="432.9" y2="172.9" stroke="#008000" stroke-width="1.45" stroke-opacity="0.78"/>
<line x1="436.2" y1="154.2" x2="436.2" y2="172.9" stroke="#008000" stroke-width="1.45" stroke-opacity="0.78"/>
<line x1="439.5" y1="154.2" x2="439.5" y2="172.9" stroke="#008000" stroke-width="1.45" stroke-opacity="0.78"/>
<line x1="442.5" y1="154.2" x2="442.5" y2="172.9" stroke="#008000" stroke-width="1.45" stroke-opacity="0.78"/>
<line x1="445.4" y1="154.2" x2="445.4" y2="172.9" stroke="#008000" stroke-width="1.45" stroke-opacity="0.78"/>
<line x1="448.3" y1="154.2" x2="448.3" y2="172.9" stroke="#008000" stroke-width="1.45" stroke-opacity="0.78"/>
<line x1="450.5" y1="154.2" x2="450.5" y2="172.9" stroke="#008000" stroke-width="1.45" stroke-opacity="0.78"/>
<line x1="453.4" y1="154.2" x2="453.4" y2="172.9" stroke="#008000" stroke-width="1.45" stroke-opacity="0.78"/>
<line x1="456.2" y1="154.2" x2="456.2" y2="172.9" stroke="#008000" stroke-width="1.45" stroke-opacity="0.78"/>
<line x1="458.9" y1="154.2" x2="458.9" y2="172.9" stroke="#008000" stroke-width="1.45" stroke-opacity="0.78"/>
<line x1="462.4" y1="154.2" x2="462.4" y2="172.9" stroke="#008000" stroke-width="1.45" stroke-opacity="0.78"/>
<line x1="466.4" y1="154.2" x2="466.4" y2="172.9" stroke="#008000" stroke-width="1.45" stroke-opacity="0.78"/>
<line x1="471.5" y1="154.2" x2="471.5" y2="172.9" stroke="#008000" stroke-width="1.45" stroke-opacity="0.78"/>
<line x1="478.8" y1="154.2" x2="478.8" y2="172.9" stroke="#008000" stroke-width="1.45" stroke-opacity="0.78"/>
<line x1="88.55" y1="194" x2="88.55" y2="197.1" stroke="#6a6a6a" stroke-width="1.35"/>
<text x="88.55" y="206.4" font-size="8.3" text-anchor="middle" textLength="9.99" lengthAdjust="spacingAndGlyphs" fill="#2a2a2a" stroke="#2a2a2a" stroke-width="0.2">28</text>
<line x1="184.99" y1="194" x2="184.99" y2="197.1" stroke="#6a6a6a" stroke-width="1.35"/>
<text x="184.99" y="206.4" font-size="8.3" text-anchor="middle" textLength="9.99" lengthAdjust="spacingAndGlyphs" fill="#2a2a2a" stroke="#2a2a2a" stroke-width="0.2">30</text>
<line x1="281.43" y1="194" x2="281.43" y2="197.1" stroke="#6a6a6a" stroke-width="1.35"/>
<text x="281.43" y="206.4" font-size="8.3" text-anchor="middle" textLength="9.99" lengthAdjust="spacingAndGlyphs" fill="#2a2a2a" stroke="#2a2a2a" stroke-width="0.2">32</text>
<line x1="377.87" y1="194" x2="377.87" y2="197.1" stroke="#6a6a6a" stroke-width="1.35"/>
<text x="377.87" y="206.4" font-size="8.3" text-anchor="middle" textLength="9.99" lengthAdjust="spacingAndGlyphs" fill="#2a2a2a" stroke="#2a2a2a" stroke-width="0.2">34</text>
<line x1="474.31" y1="194" x2="474.31" y2="197.1" stroke="#6a6a6a" stroke-width="1.35"/>
<text x="474.31" y="206.4" font-size="8.3" text-anchor="middle" textLength="9.99" lengthAdjust="spacingAndGlyphs" fill="#2a2a2a" stroke="#2a2a2a" stroke-width="0.2">36</text>
<line x1="570.75" y1="194" x2="570.75" y2="197.1" stroke="#6a6a6a" stroke-width="1.35"/>
<text x="570.75" y="206.4" font-size="8.3" text-anchor="middle" textLength="9.99" lengthAdjust="spacingAndGlyphs" fill="#2a2a2a" stroke="#2a2a2a" stroke-width="0.2">38</text>
<line x1="667.19" y1="194" x2="667.19" y2="197.1" stroke="#6a6a6a" stroke-width="1.35"/>
<text x="667.19" y="206.4" font-size="8.3" text-anchor="middle" textLength="9.99" lengthAdjust="spacingAndGlyphs" fill="#2a2a2a" stroke="#2a2a2a" stroke-width="0.2">40</text>
<line x1="48.3" y1="193.5" x2="51.4" y2="193.5" stroke="#6a6a6a" stroke-width="1.35"/>
<text x="44.9" y="196.4" font-size="8.3" text-anchor="end" textLength="12.48" lengthAdjust="spacingAndGlyphs" fill="#2a2a2a" stroke="#2a2a2a" stroke-width="0.2">0.0</text>
<line x1="48.3" y1="170.85" x2="51.4" y2="170.85" stroke="#6a6a6a" stroke-width="1.35"/>
<text x="44.9" y="173.75" font-size="8.3" text-anchor="end" textLength="12.48" lengthAdjust="spacingAndGlyphs" fill="#2a2a2a" stroke="#2a2a2a" stroke-width="0.2">0.2</text>
<line x1="48.3" y1="148.2" x2="51.4" y2="148.2" stroke="#6a6a6a" stroke-width="1.35"/>
<text x="44.9" y="151.1" font-size="8.3" text-anchor="end" textLength="12.48" lengthAdjust="spacingAndGlyphs" fill="#2a2a2a" stroke="#2a2a2a" stroke-width="0.2">0.4</text>
<line x1="48.3" y1="125.55" x2="51.4" y2="125.55" stroke="#6a6a6a" stroke-width="1.35"/>
<text x="44.9" y="128.45" font-size="8.3" text-anchor="end" textLength="12.48" lengthAdjust="spacingAndGlyphs" fill="#2a2a2a" stroke="#2a2a2a" stroke-width="0.2">0.6</text>
<line x1="48.3" y1="102.9" x2="51.4" y2="102.9" stroke="#6a6a6a" stroke-width="1.35"/>
<text x="44.9" y="105.8" font-size="8.3" text-anchor="end" textLength="12.48" lengthAdjust="spacingAndGlyphs" fill="#2a2a2a" stroke="#2a2a2a" stroke-width="0.2">0.8</text>
<line x1="48.3" y1="80.25" x2="51.4" y2="80.25" stroke="#6a6a6a" stroke-width="1.35"/>
<text x="44.9" y="83.15" font-size="8.3" text-anchor="end" textLength="12.48" lengthAdjust="spacingAndGlyphs" fill="#2a2a2a" stroke="#2a2a2a" stroke-width="0.2">1.0</text>
<line x1="48.3" y1="57.6" x2="51.4" y2="57.6" stroke="#6a6a6a" stroke-width="1.35"/>
<text x="44.9" y="60.5" font-size="8.3" text-anchor="end" textLength="12.48" lengthAdjust="spacingAndGlyphs" fill="#2a2a2a" stroke="#2a2a2a" stroke-width="0.2">1.2</text>
<line x1="48.3" y1="34.95" x2="51.4" y2="34.95" stroke="#6a6a6a" stroke-width="1.35"/>
<text x="44.9" y="37.85" font-size="8.3" text-anchor="end" textLength="12.48" lengthAdjust="spacingAndGlyphs" fill="#2a2a2a" stroke="#2a2a2a" stroke-width="0.2">1.4</text>
<line x1="48.3" y1="12.3" x2="51.4" y2="12.3" stroke="#6a6a6a" stroke-width="1.35"/>
<text x="44.9" y="15.2" font-size="8.3" text-anchor="end" textLength="12.48" lengthAdjust="spacingAndGlyphs" fill="#2a2a2a" stroke="#2a2a2a" stroke-width="0.2">1.6</text>
<text x="366.3" y="217.1" font-size="8.3" text-anchor="middle" textLength="140.14" lengthAdjust="spacingAndGlyphs" fill="#2a2a2a" stroke="#2a2a2a" stroke-width="0.2">Mean temperature, degrees Celsius</text>
<text x="27.8" y="99.6" font-size="8.3" text-anchor="middle" textLength="135.73" lengthAdjust="spacingAndGlyphs" fill="#2a2a2a" stroke="#2a2a2a" stroke-width="0.2" transform="rotate(-90 27.8 99.6)">P(X) of mean temperautre feature</text>
<rect x="55.2" y="6.5" width="163.6" height="49.7" rx="2.2" fill="#ffffff" fill-opacity="0.8" stroke="#d6d6d6" stroke-width="0.8"/>
<rect x="58.6" y="10.5" width="15.6" height="5.4" fill="#dc143c" fill-opacity="0.25" stroke="#dc143c" stroke-width="1.1" stroke-opacity="0.75"/>
<text x="80.1" y="15.85" font-size="8.3" text-anchor="start" textLength="52.21" lengthAdjust="spacingAndGlyphs" fill="#2a2a2a" stroke="#2a2a2a" stroke-width="0.2">Hospital data</text>
<rect x="58.6" y="22.4" width="15.6" height="5.4" fill="#32cd32" fill-opacity="0.25" stroke="#32cd32" stroke-width="1.1" stroke-opacity="0.75"/>
<text x="80.1" y="27.75" font-size="8.3" text-anchor="start" textLength="80.56" lengthAdjust="spacingAndGlyphs" fill="#2a2a2a" stroke="#2a2a2a" stroke-width="0.2">Wearable sleep data</text>
<line x1="58.2" y1="37" x2="74.4" y2="37" stroke="#ff0000" stroke-width="1.5" stroke-opacity="0.72"/>
<text x="80.1" y="39.65" font-size="8.3" text-anchor="start" textLength="106.24" lengthAdjust="spacingAndGlyphs" fill="#2a2a2a" stroke="#2a2a2a" stroke-width="0.2">Percentiles in hospital data</text>
<line x1="58.2" y1="48.9" x2="74.4" y2="48.9" stroke="#008000" stroke-width="1.5" stroke-opacity="0.72"/>
<text x="80.1" y="51.55" font-size="8.3" text-anchor="start" textLength="134.64" lengthAdjust="spacingAndGlyphs" fill="#2a2a2a" stroke="#2a2a2a" stroke-width="0.2">Percentiles in wearable sleep data</text>
<defs><clipPath id="cb"><rect x="51.2" y="227.1" width="630.8" height="191.3"/></clipPath></defs>
<g clip-path="url(#cb)">
<line x1="48.25" y1="390.7" x2="94.7" y2="390.7" stroke="#ff0000" stroke-opacity="0.42" stroke-width="1.3" stroke-dasharray="4.38 1.9000000000000004"/>
<line x1="48.25" y1="330.1" x2="534.8" y2="330.1" stroke="#ff0000" stroke-opacity="0.42" stroke-width="1.3" stroke-dasharray="4.38 1.9000000000000004"/>
<line x1="48.25" y1="322" x2="554.5" y2="322" stroke="#ff0000" stroke-opacity="0.42" stroke-width="1.3" stroke-dasharray="4.38 1.9000000000000004"/>
<line x1="48.25" y1="317.5" x2="566" y2="317.5" stroke="#ff0000" stroke-opacity="0.42" stroke-width="1.3" stroke-dasharray="4.38 1.9000000000000004"/>
<line x1="48.25" y1="314.6" x2="575" y2="314.6" stroke="#ff0000" stroke-opacity="0.42" stroke-width="1.3" stroke-dasharray="4.38 1.9000000000000004"/>
<line x1="48.25" y1="311.5" x2="581.2" y2="311.5" stroke="#ff0000" stroke-opacity="0.42" stroke-width="1.3" stroke-dasharray="4.38 1.9000000000000004"/>
<line x1="48.25" y1="309.5" x2="586.8" y2="309.5" stroke="#ff0000" stroke-opacity="0.42" stroke-width="1.3" stroke-dasharray="4.38 1.9000000000000004"/>
<line x1="48.25" y1="307.4" x2="591.9" y2="307.4" stroke="#ff0000" stroke-opacity="0.42" stroke-width="1.3" stroke-dasharray="4.38 1.9000000000000004"/>
<line x1="48.25" y1="305.4" x2="596.4" y2="305.4" stroke="#ff0000" stroke-opacity="0.42" stroke-width="1.3" stroke-dasharray="4.38 1.9000000000000004"/>
<line x1="48.25" y1="303.6" x2="600.8" y2="303.6" stroke="#ff0000" stroke-opacity="0.42" stroke-width="1.3" stroke-dasharray="4.38 1.9000000000000004"/>
<line x1="48.25" y1="301.2" x2="604.9" y2="301.2" stroke="#ff0000" stroke-opacity="0.42" stroke-width="1.3" stroke-dasharray="4.38 1.9000000000000004"/>
<line x1="48.25" y1="299" x2="608.7" y2="299" stroke="#ff0000" stroke-opacity="0.42" stroke-width="1.3" stroke-dasharray="4.38 1.9000000000000004"/>
<line x1="48.25" y1="296.5" x2="612.3" y2="296.5" stroke="#ff0000" stroke-opacity="0.42" stroke-width="1.3" stroke-dasharray="4.38 1.9000000000000004"/>
<line x1="48.25" y1="294.2" x2="616.5" y2="294.2" stroke="#ff0000" stroke-opacity="0.42" stroke-width="1.3" stroke-dasharray="4.38 1.9000000000000004"/>
<line x1="48.25" y1="291.4" x2="620.4" y2="291.4" stroke="#ff0000" stroke-opacity="0.42" stroke-width="1.3" stroke-dasharray="4.38 1.9000000000000004"/>
<line x1="48.25" y1="288" x2="624.8" y2="288" stroke="#ff0000" stroke-opacity="0.42" stroke-width="1.3" stroke-dasharray="4.38 1.9000000000000004"/>
<line x1="48.25" y1="284.1" x2="629.5" y2="284.1" stroke="#ff0000" stroke-opacity="0.42" stroke-width="1.3" stroke-dasharray="4.38 1.9000000000000004"/>
<line x1="48.25" y1="278.4" x2="635.2" y2="278.4" stroke="#ff0000" stroke-opacity="0.42" stroke-width="1.3" stroke-dasharray="4.38 1.9000000000000004"/>
<line x1="48.25" y1="269.3" x2="642.5" y2="269.3" stroke="#ff0000" stroke-opacity="0.42" stroke-width="1.3" stroke-dasharray="4.38 1.9000000000000004"/>
<line x1="48.25" y1="252.7" x2="654" y2="252.7" stroke="#ff0000" stroke-opacity="0.42" stroke-width="1.3" stroke-dasharray="4.38 1.9000000000000004"/>
<line x1="94.7" y1="422.4" x2="94.7" y2="390.7" stroke="#008000" stroke-opacity="0.42" stroke-width="1.3" stroke-dasharray="4.38 1.9000000000000004"/>
<line x1="534.8" y1="422.4" x2="534.8" y2="330.1" stroke="#008000" stroke-opacity="0.42" stroke-width="1.3" stroke-dasharray="4.38 1.9000000000000004"/>
<line x1="554.5" y1="422.4" x2="554.5" y2="322" stroke="#008000" stroke-opacity="0.42" stroke-width="1.3" stroke-dasharray="4.38 1.9000000000000004"/>
<line x1="566" y1="422.4" x2="566" y2="317.5" stroke="#008000" stroke-opacity="0.42" stroke-width="1.3" stroke-dasharray="4.38 1.9000000000000004"/>
<line x1="575" y1="422.4" x2="575" y2="314.6" stroke="#008000" stroke-opacity="0.42" stroke-width="1.3" stroke-dasharray="4.38 1.9000000000000004"/>
<line x1="581.2" y1="422.4" x2="581.2" y2="311.5" stroke="#008000" stroke-opacity="0.42" stroke-width="1.3" stroke-dasharray="4.38 1.9000000000000004"/>
<line x1="586.8" y1="422.4" x2="586.8" y2="309.5" stroke="#008000" stroke-opacity="0.42" stroke-width="1.3" stroke-dasharray="4.38 1.9000000000000004"/>
<line x1="591.9" y1="422.4" x2="591.9" y2="307.4" stroke="#008000" stroke-opacity="0.42" stroke-width="1.3" stroke-dasharray="4.38 1.9000000000000004"/>
<line x1="596.4" y1="422.4" x2="596.4" y2="305.4" stroke="#008000" stroke-opacity="0.42" stroke-width="1.3" stroke-dasharray="4.38 1.9000000000000004"/>
<line x1="600.8" y1="422.4" x2="600.8" y2="303.6" stroke="#008000" stroke-opacity="0.42" stroke-width="1.3" stroke-dasharray="4.38 1.9000000000000004"/>
<line x1="604.9" y1="422.4" x2="604.9" y2="301.2" stroke="#008000" stroke-opacity="0.42" stroke-width="1.3" stroke-dasharray="4.38 1.9000000000000004"/>
<line x1="608.7" y1="422.4" x2="608.7" y2="299" stroke="#008000" stroke-opacity="0.42" stroke-width="1.3" stroke-dasharray="4.38 1.9000000000000004"/>
<line x1="612.3" y1="422.4" x2="612.3" y2="296.5" stroke="#008000" stroke-opacity="0.42" stroke-width="1.3" stroke-dasharray="4.38 1.9000000000000004"/>
<line x1="616.5" y1="422.4" x2="616.5" y2="294.2" stroke="#008000" stroke-opacity="0.42" stroke-width="1.3" stroke-dasharray="4.38 1.9000000000000004"/>
<line x1="620.4" y1="422.4" x2="620.4" y2="291.4" stroke="#008000" stroke-opacity="0.42" stroke-width="1.3" stroke-dasharray="4.38 1.9000000000000004"/>
<line x1="624.8" y1="422.4" x2="624.8" y2="288" stroke="#008000" stroke-opacity="0.42" stroke-width="1.3" stroke-dasharray="4.38 1.9000000000000004"/>
<line x1="629.5" y1="422.4" x2="629.5" y2="284.1" stroke="#008000" stroke-opacity="0.42" stroke-width="1.3" stroke-dasharray="4.38 1.9000000000000004"/>
<line x1="635.2" y1="422.4" x2="635.2" y2="278.4" stroke="#008000" stroke-opacity="0.42" stroke-width="1.3" stroke-dasharray="4.38 1.9000000000000004"/>
<line x1="642.5" y1="422.4" x2="642.5" y2="269.3" stroke="#008000" stroke-opacity="0.42" stroke-width="1.3" stroke-dasharray="4.38 1.9000000000000004"/>
<line x1="654" y1="422.4" x2="654" y2="252.7" stroke="#008000" stroke-opacity="0.42" stroke-width="1.3" stroke-dasharray="4.38 1.9000000000000004"/>
</g>
<path d="M94.7,390.7 L534.8,330.1 L554.5,322.0 L566.0,317.5 L575.0,314.6 L581.2,311.5 L586.8,309.5 L591.9,307.4 L596.4,305.4 L600.8,303.6 L604.9,301.2 L608.7,299.0 L612.3,296.5 L616.5,294.2 L620.4,291.4 L624.8,288.0 L629.5,284.1 L635.2,278.4 L642.5,269.3 L654.0,252.7" fill="none" stroke="#1a1a1a" stroke-width="1.3" stroke-linejoin="round"/>
<rect x="51.2" y="227.1" width="630.8" height="191.3" fill="none" stroke="#7a7a7a" stroke-width="1.35"/>
<line x1="86.5" y1="418.4" x2="86.5" y2="421.5" stroke="#6a6a6a" stroke-width="1.35"/>
<text x="86.5" y="430.5" font-size="8.3" text-anchor="middle" textLength="9.99" lengthAdjust="spacingAndGlyphs" fill="#2a2a2a" stroke="#2a2a2a" stroke-width="0.2">28</text>
<line x1="156.53" y1="418.4" x2="156.53" y2="421.5" stroke="#6a6a6a" stroke-width="1.35"/>
<text x="156.53" y="430.5" font-size="8.3" text-anchor="middle" textLength="9.99" lengthAdjust="spacingAndGlyphs" fill="#2a2a2a" stroke="#2a2a2a" stroke-width="0.2">29</text>
<line x1="226.56" y1="418.4" x2="226.56" y2="421.5" stroke="#6a6a6a" stroke-width="1.35"/>
<text x="226.56" y="430.5" font-size="8.3" text-anchor="middle" textLength="9.99" lengthAdjust="spacingAndGlyphs" fill="#2a2a2a" stroke="#2a2a2a" stroke-width="0.2">30</text>
<line x1="296.59" y1="418.4" x2="296.59" y2="421.5" stroke="#6a6a6a" stroke-width="1.35"/>
<text x="296.59" y="430.5" font-size="8.3" text-anchor="middle" textLength="9.99" lengthAdjust="spacingAndGlyphs" fill="#2a2a2a" stroke="#2a2a2a" stroke-width="0.2">31</text>
<line x1="366.62" y1="418.4" x2="366.62" y2="421.5" stroke="#6a6a6a" stroke-width="1.35"/>
<text x="366.62" y="430.5" font-size="8.3" text-anchor="middle" textLength="9.99" lengthAdjust="spacingAndGlyphs" fill="#2a2a2a" stroke="#2a2a2a" stroke-width="0.2">32</text>
<line x1="436.65" y1="418.4" x2="436.65" y2="421.5" stroke="#6a6a6a" stroke-width="1.35"/>
<text x="436.65" y="430.5" font-size="8.3" text-anchor="middle" textLength="9.99" lengthAdjust="spacingAndGlyphs" fill="#2a2a2a" stroke="#2a2a2a" stroke-width="0.2">33</text>
<line x1="506.68" y1="418.4" x2="506.68" y2="421.5" stroke="#6a6a6a" stroke-width="1.35"/>
<text x="506.68" y="430.5" font-size="8.3" text-anchor="middle" textLength="9.99" lengthAdjust="spacingAndGlyphs" fill="#2a2a2a" stroke="#2a2a2a" stroke-width="0.2">34</text>
<line x1="576.71" y1="418.4" x2="576.71" y2="421.5" stroke="#6a6a6a" stroke-width="1.35"/>
<text x="576.71" y="430.5" font-size="8.3" text-anchor="middle" textLength="9.99" lengthAdjust="spacingAndGlyphs" fill="#2a2a2a" stroke="#2a2a2a" stroke-width="0.2">35</text>
<line x1="646.74" y1="418.4" x2="646.74" y2="421.5" stroke="#6a6a6a" stroke-width="1.35"/>
<text x="646.74" y="430.5" font-size="8.3" text-anchor="middle" textLength="9.99" lengthAdjust="spacingAndGlyphs" fill="#2a2a2a" stroke="#2a2a2a" stroke-width="0.2">36</text>
<line x1="48.1" y1="395.3" x2="51.2" y2="395.3" stroke="#6a6a6a" stroke-width="1.35"/>
<text x="44.9" y="398.2" font-size="8.3" text-anchor="end" textLength="17.48" lengthAdjust="spacingAndGlyphs" fill="#2a2a2a" stroke="#2a2a2a" stroke-width="0.2">35.5</text>
<line x1="48.1" y1="357.1" x2="51.2" y2="357.1" stroke="#6a6a6a" stroke-width="1.35"/>
<text x="44.9" y="360" font-size="8.3" text-anchor="end" textLength="17.48" lengthAdjust="spacingAndGlyphs" fill="#2a2a2a" stroke="#2a2a2a" stroke-width="0.2">36.0</text>
<line x1="48.1" y1="318.9" x2="51.2" y2="318.9" stroke="#6a6a6a" stroke-width="1.35"/>
<text x="44.9" y="321.8" font-size="8.3" text-anchor="end" textLength="17.48" lengthAdjust="spacingAndGlyphs" fill="#2a2a2a" stroke="#2a2a2a" stroke-width="0.2">36.5</text>
<line x1="48.1" y1="280.7" x2="51.2" y2="280.7" stroke="#6a6a6a" stroke-width="1.35"/>
<text x="44.9" y="283.6" font-size="8.3" text-anchor="end" textLength="17.48" lengthAdjust="spacingAndGlyphs" fill="#2a2a2a" stroke="#2a2a2a" stroke-width="0.2">37.0</text>
<line x1="48.1" y1="242.5" x2="51.2" y2="242.5" stroke="#6a6a6a" stroke-width="1.35"/>
<text x="44.9" y="245.4" font-size="8.3" text-anchor="end" textLength="17.48" lengthAdjust="spacingAndGlyphs" fill="#2a2a2a" stroke="#2a2a2a" stroke-width="0.2">37.5</text>
<text x="366.6" y="441.6" font-size="8.3" text-anchor="middle" textLength="230.81" lengthAdjust="spacingAndGlyphs" fill="#2a2a2a" stroke="#2a2a2a" stroke-width="0.2">Wearable sleep data: mean skin temperature during sleep</text>
<text x="22.5" y="324" font-size="8.3" text-anchor="middle" textLength="152.54" lengthAdjust="spacingAndGlyphs" fill="#2a2a2a" stroke="#2a2a2a" stroke-width="0.2" transform="rotate(-90 22.5 324)">Hospital data: mean core temperature</text>
<rect x="55.2" y="231.4" width="162" height="13.7" rx="2.2" fill="#ffffff" fill-opacity="0.8" stroke="#d6d6d6" stroke-width="0.8"/>
<line x1="58.2" y1="237.5" x2="74.4" y2="237.5" stroke="#1a1a1a" stroke-width="1.4"/>
<text x="80.1" y="240.8" font-size="8.3" text-anchor="start" textLength="132.37" lengthAdjust="spacingAndGlyphs" fill="#2a2a2a" stroke="#2a2a2a" stroke-width="0.2">Monotonic feature transformation</text>
<rect x="51.4" y="451.6" width="630.7" height="191.7" fill="none" stroke="#7a7a7a" stroke-width="1.35"/>
<path d="M438.0,642.7 L438.4,642.7 L438.9,642.7 L439.3,642.7 L439.7,642.7 L440.2,642.7 L440.6,642.7 L441.0,642.7 L441.5,642.7 L441.9,642.7 L442.3,642.7 L442.8,642.7 L443.2,642.7 L443.6,642.7 L444.1,642.7 L444.5,642.7 L444.9,642.7 L445.3,642.7 L445.8,642.7 L446.2,642.7 L446.6,642.7 L447.1,642.7 L447.5,642.7 L447.9,642.7 L448.4,642.7 L448.8,642.7 L449.2,642.7 L449.7,642.7 L450.1,642.7 L450.5,642.7 L451.0,642.6 L451.4,642.6 L451.8,642.6 L452.3,642.6 L452.7,642.6 L453.1,642.6 L453.6,642.6 L454.0,642.6 L454.4,642.6 L454.9,642.6 L455.3,642.6 L455.7,642.6 L456.2,642.5 L456.6,642.5 L457.0,642.5 L457.5,642.5 L457.9,642.5 L458.3,642.4 L458.7,642.4 L459.2,642.4 L459.6,642.4 L460.0,642.3 L460.5,642.3 L460.9,642.3 L461.3,642.2 L461.8,642.2 L462.2,642.2 L462.6,642.1 L463.1,642.1 L463.5,642.0 L463.9,641.9 L464.4,641.9 L464.8,641.8 L465.2,641.7 L465.7,641.7 L466.1,641.6 L466.5,641.5 L467.0,641.4 L467.4,641.3 L467.8,641.2 L468.3,641.1 L468.7,640.9 L469.1,640.8 L469.6,640.7 L470.0,640.5 L470.4,640.3 L470.9,640.2 L471.3,640.0 L471.7,639.8 L472.1,639.6 L472.6,639.4 L473.0,639.1 L473.4,638.9 L473.9,638.6 L474.3,638.4 L474.7,638.1 L475.2,637.8 L475.6,637.5 L476.0,637.1 L476.5,636.8 L476.9,636.4 L477.3,636.0 L477.8,635.6 L478.2,635.2 L478.6,634.7 L479.1,634.3 L479.5,633.7 L479.9,633.2 L480.4,632.7 L480.8,632.1 L481.2,631.5 L481.7,630.8 L482.1,630.1 L482.5,629.4 L483.0,628.6 L483.4,627.8 L483.8,626.9 L484.3,626.0 L484.7,625.0 L485.1,624.0 L485.5,622.8 L486.0,621.6 L486.4,620.4 L486.8,619.0 L487.3,617.6 L487.7,616.0 L488.1,614.4 L488.6,612.6 L489.0,610.7 L489.4,608.7 L489.9,606.6 L490.3,604.3 L490.7,601.9 L491.2,599.3 L491.6,596.6 L492.0,593.7 L492.5,590.6 L492.9,587.4 L493.3,584.1 L493.8,580.6 L494.2,576.9 L494.6,573.1 L495.1,569.1 L495.5,565.0 L495.9,560.8 L496.4,556.5 L496.8,552.1 L497.2,547.6 L497.6,543.1 L498.1,538.6 L498.5,534.1 L498.9,529.6 L499.4,525.2 L499.8,521.0 L500.2,516.9 L500.7,513.0 L501.1,509.3 L501.5,506.0 L502.0,502.9 L502.4,500.0 L502.8,497.3 L503.3,494.8 L503.7,492.4 L504.1,490.0 L504.6,487.8 L505.0,485.6 L505.4,483.5 L505.9,481.7 L506.3,480.2 L506.7,479.1 L507.2,478.3 L507.6,477.9 L508.0,477.9 L508.5,478.2 L508.9,478.9 L509.3,479.9 L509.8,481.2 L510.2,482.7 L510.6,484.4 L511.0,486.3 L511.5,488.5 L511.9,490.7 L512.3,493.1 L512.8,495.7 L513.2,498.3 L513.6,501.1 L514.1,504.0 L514.5,507.0 L514.9,510.0 L515.4,513.2 L515.8,516.4 L516.2,519.6 L516.7,522.9 L517.1,526.2 L517.5,529.6 L518.0,533.0 L518.4,536.4 L518.8,539.8 L519.3,543.2 L519.7,546.7 L520.1,550.1 L520.6,553.4 L521.0,556.8 L521.4,560.1 L521.9,563.3 L522.3,566.5 L522.7,569.6 L523.2,572.6 L523.6,575.6 L524.0,578.4 L524.4,581.2 L524.9,583.9 L525.3,586.5 L525.7,588.9 L526.2,591.3 L526.6,593.5 L527.0,595.6 L527.5,597.7 L527.9,599.6 L528.3,601.4 L528.8,603.1 L529.2,604.8 L529.6,606.3 L530.1,607.7 L530.5,609.1 L530.9,610.3 L531.4,611.5 L531.8,612.6 L532.2,613.7 L532.7,614.7 L533.1,615.6 L533.5,616.5 L534.0,617.3 L534.4,618.1 L534.8,618.8 L535.3,619.5 L535.7,620.2 L536.1,620.9 L536.6,621.5 L537.0,622.0 L537.4,622.6 L537.8,623.1 L538.3,623.7 L538.7,624.2 L539.1,624.6 L539.6,625.1 L540.0,625.5 L540.4,626.0 L540.9,626.4 L541.3,626.8 L541.7,627.2 L542.2,627.6 L542.6,628.0 L543.0,628.3 L543.5,628.7 L543.9,629.0 L544.3,629.4 L544.8,629.7 L545.2,630.0 L545.6,630.3 L546.1,630.6 L546.5,630.9 L546.9,631.2 L547.4,631.5 L547.8,631.8 L548.2,632.0 L548.7,632.3 L549.1,632.6 L549.5,632.8 L550.0,633.1 L550.4,633.3 L550.8,633.6 L551.2,633.8 L551.7,634.0 L552.1,634.2 L552.5,634.5 L553.0,634.7 L553.4,634.9 L553.8,635.1 L554.3,635.3 L554.7,635.5 L555.1,635.7 L555.6,635.9 L556.0,636.1 L556.4,636.3 L556.9,636.5 L557.3,636.6 L557.7,636.8 L558.2,637.0 L558.6,637.2 L559.0,637.3 L559.5,637.5 L559.9,637.6 L560.3,637.8 L560.8,637.9 L561.2,638.1 L561.6,638.2 L562.1,638.4 L562.5,638.5 L562.9,638.7 L563.4,638.8 L563.8,638.9 L564.2,639.0 L564.6,639.2 L565.1,639.3 L565.5,639.4 L565.9,639.5 L566.4,639.6 L566.8,639.7 L567.2,639.8 L567.7,640.0 L568.1,640.1 L568.5,640.2 L569.0,640.2 L569.4,640.3 L569.8,640.4 L570.3,640.5 L570.7,640.6 L571.1,640.7 L571.6,640.8 L572.0,640.8 L572.4,640.9 L572.9,641.0 L573.3,641.1 L573.7,641.1 L574.2,641.2 L574.6,641.3 L575.0,641.3 L575.5,641.4 L575.9,641.4 L576.3,641.5 L576.7,641.5 L577.2,641.6 L577.6,641.6 L578.0,641.7 L578.5,641.7 L578.9,641.8 L579.3,641.8 L579.8,641.9 L580.2,641.9 L580.6,641.9 L581.1,642.0 L581.5,642.0 L581.9,642.0 L582.4,642.1 L582.8,642.1 L583.2,642.1 L583.7,642.2 L584.1,642.2 L584.5,642.2 L585.0,642.2 L585.4,642.3 L585.8,642.3 L586.3,642.3 L586.7,642.3 L587.1,642.4 L587.6,642.4 L588.0,642.4 L588.4,642.4 L588.9,642.4 L589.3,642.4 L589.7,642.5 L590.1,642.5 L590.6,642.5 L591.0,642.5 L591.4,642.5 L591.9,642.5 L592.3,642.5 L592.7,642.5 L593.2,642.5 L593.6,642.6 L594.0,642.6 L594.5,642.6 L594.9,642.6 L595.3,642.6 L595.8,642.6 L596.2,642.6 L596.6,642.6 L597.1,642.6 L597.5,642.6 L597.9,642.6 L598.4,642.6 L598.8,642.6 L599.2,642.6 L599.7,642.6 L600.1,642.6 L600.5,642.6 L601.0,642.7 L601.4,642.7 L601.8,642.7 L602.3,642.7 L602.7,642.7 L603.1,642.7 L603.5,642.7 L604.0,642.7 L604.4,642.7 L604.8,642.7 L605.3,642.7 L605.7,642.7 L606.1,642.7 L606.6,642.7 L607.0,642.7 L607.4,642.7 L607.9,642.7 L608.3,642.7 L608.7,642.7 L609.2,642.7 L609.6,642.7 L610.0,642.7 L610.5,642.7 L610.9,642.7 L611.3,642.7 L611.8,642.7 L612.2,642.7 L612.6,642.7 L613.1,642.7 L613.5,642.7 L613.9,642.7 L614.4,642.7 L614.8,642.7 L615.2,642.7 L615.7,642.7 L616.1,642.7 L616.5,642.7 L616.9,642.7 L617.4,642.7 L617.8,642.7 L618.2,642.7 L618.7,642.7 L619.1,642.7 L619.5,642.7 L620.0,642.7 L620.4,642.7 L620.8,642.7 L621.3,642.7 L621.7,642.7 L622.1,642.7 L622.6,642.7 L623.0,642.7 L623.4,642.7 L623.9,642.7 L624.3,642.7 L624.7,642.7 L625.2,642.7 L625.6,642.7 L626.0,642.7 L626.5,642.7 L626.9,642.7 L627.3,642.7 L627.8,642.7 L628.2,642.7 L628.6,642.7 L629.1,642.7 L629.5,642.7 L629.9,642.7 L630.3,642.7 L630.8,642.7 L631.2,642.7 L631.6,642.7 L632.1,642.7 L632.5,642.7 L632.9,642.7 L633.4,642.7 L633.8,642.7 L634.2,642.7 L634.7,642.7 L635.1,642.7 L635.5,642.7 L636.0,642.7 L636.4,642.7 L636.8,642.7 L637.3,642.7 L637.7,642.7 L638.1,642.7 L638.6,642.7 L639.0,642.7 L639.4,642.7 L639.9,642.7 L640.3,642.7 L640.7,642.7 L641.2,642.7 L641.6,642.7 L642.0,642.7 L642.5,642.7 L642.9,642.7 L643.3,642.7 L643.7,642.7 L644.2,642.7 L644.6,642.7 L645.0,642.7 L645.5,642.7 L645.9,642.7 L646.3,642.7 L646.8,642.7 L647.2,642.7 L647.6,642.7 L648.1,642.7 L648.5,642.7 L648.9,642.7 L649.4,642.7 L649.8,642.7 L650.2,642.7 L650.7,642.7 L651.1,642.7 L651.5,642.7 L652.0,642.7 L652.4,642.7 L652.8,642.7 L653.3,642.7 L653.7,642.7 L653.69,642.7 L438,642.7 Z" fill="#dc143c" fill-opacity="0.25" stroke="none"/>
<path d="M438.0,642.7 L438.4,642.7 L438.9,642.7 L439.3,642.7 L439.7,642.7 L440.2,642.7 L440.6,642.7 L441.0,642.7 L441.5,642.7 L441.9,642.7 L442.3,642.7 L442.8,642.7 L443.2,642.7 L443.6,642.7 L444.1,642.7 L444.5,642.7 L444.9,642.7 L445.3,642.7 L445.8,642.7 L446.2,642.7 L446.6,642.7 L447.1,642.7 L447.5,642.7 L447.9,642.7 L448.4,642.7 L448.8,642.7 L449.2,642.7 L449.7,642.7 L450.1,642.7 L450.5,642.7 L451.0,642.6 L451.4,642.6 L451.8,642.6 L452.3,642.6 L452.7,642.6 L453.1,642.6 L453.6,642.6 L454.0,642.6 L454.4,642.6 L454.9,642.6 L455.3,642.6 L455.7,642.6 L456.2,642.5 L456.6,642.5 L457.0,642.5 L457.5,642.5 L457.9,642.5 L458.3,642.4 L458.7,642.4 L459.2,642.4 L459.6,642.4 L460.0,642.3 L460.5,642.3 L460.9,642.3 L461.3,642.2 L461.8,642.2 L462.2,642.2 L462.6,642.1 L463.1,642.1 L463.5,642.0 L463.9,641.9 L464.4,641.9 L464.8,641.8 L465.2,641.7 L465.7,641.7 L466.1,641.6 L466.5,641.5 L467.0,641.4 L467.4,641.3 L467.8,641.2 L468.3,641.1 L468.7,640.9 L469.1,640.8 L469.6,640.7 L470.0,640.5 L470.4,640.3 L470.9,640.2 L471.3,640.0 L471.7,639.8 L472.1,639.6 L472.6,639.4 L473.0,639.1 L473.4,638.9 L473.9,638.6 L474.3,638.4 L474.7,638.1 L475.2,637.8 L475.6,637.5 L476.0,637.1 L476.5,636.8 L476.9,636.4 L477.3,636.0 L477.8,635.6 L478.2,635.2 L478.6,634.7 L479.1,634.3 L479.5,633.7 L479.9,633.2 L480.4,632.7 L480.8,632.1 L481.2,631.5 L481.7,630.8 L482.1,630.1 L482.5,629.4 L483.0,628.6 L483.4,627.8 L483.8,626.9 L484.3,626.0 L484.7,625.0 L485.1,624.0 L485.5,622.8 L486.0,621.6 L486.4,620.4 L486.8,619.0 L487.3,617.6 L487.7,616.0 L488.1,614.4 L488.6,612.6 L489.0,610.7 L489.4,608.7 L489.9,606.6 L490.3,604.3 L490.7,601.9 L491.2,599.3 L491.6,596.6 L492.0,593.7 L492.5,590.6 L492.9,587.4 L493.3,584.1 L493.8,580.6 L494.2,576.9 L494.6,573.1 L495.1,569.1 L495.5,565.0 L495.9,560.8 L496.4,556.5 L496.8,552.1 L497.2,547.6 L497.6,543.1 L498.1,538.6 L498.5,534.1 L498.9,529.6 L499.4,525.2 L499.8,521.0 L500.2,516.9 L500.7,513.0 L501.1,509.3 L501.5,506.0 L502.0,502.9 L502.4,500.0 L502.8,497.3 L503.3,494.8 L503.7,492.4 L504.1,490.0 L504.6,487.8 L505.0,485.6 L505.4,483.5 L505.9,481.7 L506.3,480.2 L506.7,479.1 L507.2,478.3 L507.6,477.9 L508.0,477.9 L508.5,478.2 L508.9,478.9 L509.3,479.9 L509.8,481.2 L510.2,482.7 L510.6,484.4 L511.0,486.3 L511.5,488.5 L511.9,490.7 L512.3,493.1 L512.8,495.7 L513.2,498.3 L513.6,501.1 L514.1,504.0 L514.5,507.0 L514.9,510.0 L515.4,513.2 L515.8,516.4 L516.2,519.6 L516.7,522.9 L517.1,526.2 L517.5,529.6 L518.0,533.0 L518.4,536.4 L518.8,539.8 L519.3,543.2 L519.7,546.7 L520.1,550.1 L520.6,553.4 L521.0,556.8 L521.4,560.1 L521.9,563.3 L522.3,566.5 L522.7,569.6 L523.2,572.6 L523.6,575.6 L524.0,578.4 L524.4,581.2 L524.9,583.9 L525.3,586.5 L525.7,588.9 L526.2,591.3 L526.6,593.5 L527.0,595.6 L527.5,597.7 L527.9,599.6 L528.3,601.4 L528.8,603.1 L529.2,604.8 L529.6,606.3 L530.1,607.7 L530.5,609.1 L530.9,610.3 L531.4,611.5 L531.8,612.6 L532.2,613.7 L532.7,614.7 L533.1,615.6 L533.5,616.5 L534.0,617.3 L534.4,618.1 L534.8,618.8 L535.3,619.5 L535.7,620.2 L536.1,620.9 L536.6,621.5 L537.0,622.0 L537.4,622.6 L537.8,623.1 L538.3,623.7 L538.7,624.2 L539.1,624.6 L539.6,625.1 L540.0,625.5 L540.4,626.0 L540.9,626.4 L541.3,626.8 L541.7,627.2 L542.2,627.6 L542.6,628.0 L543.0,628.3 L543.5,628.7 L543.9,629.0 L544.3,629.4 L544.8,629.7 L545.2,630.0 L545.6,630.3 L546.1,630.6 L546.5,630.9 L546.9,631.2 L547.4,631.5 L547.8,631.8 L548.2,632.0 L548.7,632.3 L549.1,632.6 L549.5,632.8 L550.0,633.1 L550.4,633.3 L550.8,633.6 L551.2,633.8 L551.7,634.0 L552.1,634.2 L552.5,634.5 L553.0,634.7 L553.4,634.9 L553.8,635.1 L554.3,635.3 L554.7,635.5 L555.1,635.7 L555.6,635.9 L556.0,636.1 L556.4,636.3 L556.9,636.5 L557.3,636.6 L557.7,636.8 L558.2,637.0 L558.6,637.2 L559.0,637.3 L559.5,637.5 L559.9,637.6 L560.3,637.8 L560.8,637.9 L561.2,638.1 L561.6,638.2 L562.1,638.4 L562.5,638.5 L562.9,638.7 L563.4,638.8 L563.8,638.9 L564.2,639.0 L564.6,639.2 L565.1,639.3 L565.5,639.4 L565.9,639.5 L566.4,639.6 L566.8,639.7 L567.2,639.8 L567.7,640.0 L568.1,640.1 L568.5,640.2 L569.0,640.2 L569.4,640.3 L569.8,640.4 L570.3,640.5 L570.7,640.6 L571.1,640.7 L571.6,640.8 L572.0,640.8 L572.4,640.9 L572.9,641.0 L573.3,641.1 L573.7,641.1 L574.2,641.2 L574.6,641.3 L575.0,641.3 L575.5,641.4 L575.9,641.4 L576.3,641.5 L576.7,641.5 L577.2,641.6 L577.6,641.6 L578.0,641.7 L578.5,641.7 L578.9,641.8 L579.3,641.8 L579.8,641.9 L580.2,641.9 L580.6,641.9 L581.1,642.0 L581.5,642.0 L581.9,642.0 L582.4,642.1 L582.8,642.1 L583.2,642.1 L583.7,642.2 L584.1,642.2 L584.5,642.2 L585.0,642.2 L585.4,642.3 L585.8,642.3 L586.3,642.3 L586.7,642.3 L587.1,642.4 L587.6,642.4 L588.0,642.4 L588.4,642.4 L588.9,642.4 L589.3,642.4 L589.7,642.5 L590.1,642.5 L590.6,642.5 L591.0,642.5 L591.4,642.5 L591.9,642.5 L592.3,642.5 L592.7,642.5 L593.2,642.5 L593.6,642.6 L594.0,642.6 L594.5,642.6 L594.9,642.6 L595.3,642.6 L595.8,642.6 L596.2,642.6 L596.6,642.6 L597.1,642.6 L597.5,642.6 L597.9,642.6 L598.4,642.6 L598.8,642.6 L599.2,642.6 L599.7,642.6 L600.1,642.6 L600.5,642.6 L601.0,642.7 L601.4,642.7 L601.8,642.7 L602.3,642.7 L602.7,642.7 L603.1,642.7 L603.5,642.7 L604.0,642.7 L604.4,642.7 L604.8,642.7 L605.3,642.7 L605.7,642.7 L606.1,642.7 L606.6,642.7 L607.0,642.7 L607.4,642.7 L607.9,642.7 L608.3,642.7 L608.7,642.7 L609.2,642.7 L609.6,642.7 L610.0,642.7 L610.5,642.7 L610.9,642.7 L611.3,642.7 L611.8,642.7 L612.2,642.7 L612.6,642.7 L613.1,642.7 L613.5,642.7 L613.9,642.7 L614.4,642.7 L614.8,642.7 L615.2,642.7 L615.7,642.7 L616.1,642.7 L616.5,642.7 L616.9,642.7 L617.4,642.7 L617.8,642.7 L618.2,642.7 L618.7,642.7 L619.1,642.7 L619.5,642.7 L620.0,642.7 L620.4,642.7 L620.8,642.7 L621.3,642.7 L621.7,642.7 L622.1,642.7 L622.6,642.7 L623.0,642.7 L623.4,642.7 L623.9,642.7 L624.3,642.7 L624.7,642.7 L625.2,642.7 L625.6,642.7 L626.0,642.7 L626.5,642.7 L626.9,642.7 L627.3,642.7 L627.8,642.7 L628.2,642.7 L628.6,642.7 L629.1,642.7 L629.5,642.7 L629.9,642.7 L630.3,642.7 L630.8,642.7 L631.2,642.7 L631.6,642.7 L632.1,642.7 L632.5,642.7 L632.9,642.7 L633.4,642.7 L633.8,642.7 L634.2,642.7 L634.7,642.7 L635.1,642.7 L635.5,642.7 L636.0,642.7 L636.4,642.7 L636.8,642.7 L637.3,642.7 L637.7,642.7 L638.1,642.7 L638.6,642.7 L639.0,642.7 L639.4,642.7 L639.9,642.7 L640.3,642.7 L640.7,642.7 L641.2,642.7 L641.6,642.7 L642.0,642.7 L642.5,642.7 L642.9,642.7 L643.3,642.7 L643.7,642.7 L644.2,642.7 L644.6,642.7 L645.0,642.7 L645.5,642.7 L645.9,642.7 L646.3,642.7 L646.8,642.7 L647.2,642.7 L647.6,642.7 L648.1,642.7 L648.5,642.7 L648.9,642.7 L649.4,642.7 L649.8,642.7 L650.2,642.7 L650.7,642.7 L651.1,642.7 L651.5,642.7 L652.0,642.7 L652.4,642.7 L652.8,642.7 L653.3,642.7 L653.7,642.7" fill="none" stroke="#e04a72" stroke-width="1.3" stroke-opacity="1.0" stroke-linejoin="round"/>
<path d="M79.9,642.7 L80.7,642.7 L81.5,642.7 L82.3,642.7 L83.2,642.7 L84.0,642.7 L84.8,642.7 L85.6,642.7 L86.4,642.7 L87.3,642.7 L88.1,642.7 L88.9,642.7 L89.7,642.7 L90.5,642.7 L91.4,642.7 L92.2,642.7 L93.0,642.7 L93.8,642.7 L94.6,642.7 L95.5,642.7 L96.3,642.7 L97.1,642.7 L97.9,642.7 L98.8,642.7 L99.6,642.7 L100.4,642.7 L101.2,642.7 L102.0,642.7 L102.9,642.7 L103.7,642.7 L104.5,642.7 L105.3,642.7 L106.1,642.7 L107.0,642.7 L107.8,642.7 L108.6,642.7 L109.4,642.7 L110.2,642.7 L111.1,642.7 L111.9,642.7 L112.7,642.7 L113.5,642.7 L114.3,642.7 L115.2,642.7 L116.0,642.7 L116.8,642.7 L117.6,642.7 L118.5,642.7 L119.3,642.7 L120.1,642.7 L120.9,642.7 L121.7,642.7 L122.6,642.7 L123.4,642.7 L124.2,642.7 L125.0,642.7 L125.8,642.7 L126.7,642.7 L127.5,642.7 L128.3,642.7 L129.1,642.7 L129.9,642.7 L130.8,642.7 L131.6,642.7 L132.4,642.7 L133.2,642.7 L134.1,642.7 L134.9,642.7 L135.7,642.7 L136.5,642.7 L137.3,642.7 L138.2,642.7 L139.0,642.7 L139.8,642.7 L140.6,642.7 L141.4,642.7 L142.3,642.7 L143.1,642.7 L143.9,642.7 L144.7,642.7 L145.5,642.7 L146.4,642.7 L147.2,642.7 L148.0,642.7 L148.8,642.7 L149.6,642.7 L150.5,642.7 L151.3,642.7 L152.1,642.7 L152.9,642.7 L153.8,642.7 L154.6,642.7 L155.4,642.7 L156.2,642.7 L157.0,642.7 L157.9,642.7 L158.7,642.7 L159.5,642.7 L160.3,642.7 L161.1,642.7 L162.0,642.7 L162.8,642.7 L163.6,642.7 L164.4,642.7 L165.2,642.7 L166.1,642.7 L166.9,642.7 L167.7,642.7 L168.5,642.7 L169.3,642.7 L170.2,642.7 L171.0,642.7 L171.8,642.7 L172.6,642.7 L173.5,642.7 L174.3,642.7 L175.1,642.7 L175.9,642.7 L176.7,642.7 L177.6,642.7 L178.4,642.7 L179.2,642.7 L180.0,642.7 L180.8,642.7 L181.7,642.7 L182.5,642.7 L183.3,642.7 L184.1,642.7 L184.9,642.7 L185.8,642.7 L186.6,642.7 L187.4,642.7 L188.2,642.7 L189.1,642.7 L189.9,642.7 L190.7,642.7 L191.5,642.7 L192.3,642.7 L193.2,642.7 L194.0,642.7 L194.8,642.7 L195.6,642.7 L196.4,642.7 L197.3,642.7 L198.1,642.7 L198.9,642.7 L199.7,642.7 L200.5,642.7 L201.4,642.7 L202.2,642.7 L203.0,642.7 L203.8,642.7 L204.6,642.7 L205.5,642.7 L206.3,642.7 L207.1,642.7 L207.9,642.7 L208.8,642.7 L209.6,642.7 L210.4,642.7 L211.2,642.7 L212.0,642.7 L212.9,642.7 L213.7,642.7 L214.5,642.7 L215.3,642.7 L216.1,642.7 L217.0,642.7 L217.8,642.7 L218.6,642.7 L219.4,642.7 L220.2,642.7 L221.1,642.7 L221.9,642.7 L222.7,642.7 L223.5,642.7 L224.4,642.7 L225.2,642.7 L226.0,642.7 L226.8,642.7 L227.6,642.7 L228.5,642.7 L229.3,642.7 L230.1,642.7 L230.9,642.7 L231.7,642.7 L232.6,642.7 L233.4,642.7 L234.2,642.7 L235.0,642.7 L235.8,642.7 L236.7,642.7 L237.5,642.7 L238.3,642.7 L239.1,642.7 L239.9,642.7 L240.8,642.7 L241.6,642.7 L242.4,642.7 L243.2,642.7 L244.1,642.7 L244.9,642.7 L245.7,642.7 L246.5,642.7 L247.3,642.7 L248.2,642.7 L249.0,642.7 L249.8,642.7 L250.6,642.7 L251.4,642.7 L252.3,642.7 L253.1,642.7 L253.9,642.7 L254.7,642.7 L255.5,642.7 L256.4,642.7 L257.2,642.7 L258.0,642.7 L258.8,642.7 L259.7,642.7 L260.5,642.7 L261.3,642.7 L262.1,642.7 L262.9,642.7 L263.8,642.7 L264.6,642.7 L265.4,642.7 L266.2,642.7 L267.0,642.7 L267.9,642.7 L268.7,642.7 L269.5,642.7 L270.3,642.7 L271.1,642.7 L272.0,642.7 L272.8,642.7 L273.6,642.7 L274.4,642.7 L275.2,642.7 L276.1,642.7 L276.9,642.7 L277.7,642.7 L278.5,642.7 L279.4,642.7 L280.2,642.7 L281.0,642.7 L281.8,642.7 L282.6,642.7 L283.5,642.7 L284.3,642.7 L285.1,642.7 L285.9,642.7 L286.7,642.7 L287.6,642.7 L288.4,642.7 L289.2,642.7 L290.0,642.7 L290.8,642.7 L291.7,642.7 L292.5,642.7 L293.3,642.7 L294.1,642.7 L294.9,642.7 L295.8,642.7 L296.6,642.7 L297.4,642.7 L298.2,642.7 L299.1,642.7 L299.9,642.7 L300.7,642.7 L301.5,642.7 L302.3,642.7 L303.2,642.7 L304.0,642.7 L304.8,642.7 L305.6,642.7 L306.4,642.7 L307.3,642.7 L308.1,642.7 L308.9,642.7 L309.7,642.7 L310.5,642.7 L311.4,642.7 L312.2,642.7 L313.0,642.7 L313.8,642.7 L314.7,642.7 L315.5,642.6 L316.3,642.6 L317.1,642.6 L317.9,642.6 L318.8,642.6 L319.6,642.6 L320.4,642.6 L321.2,642.6 L322.0,642.6 L322.9,642.6 L323.7,642.6 L324.5,642.6 L325.3,642.6 L326.1,642.5 L327.0,642.5 L327.8,642.5 L328.6,642.5 L329.4,642.5 L330.2,642.5 L331.1,642.5 L331.9,642.4 L332.7,642.4 L333.5,642.4 L334.4,642.4 L335.2,642.4 L336.0,642.3 L336.8,642.3 L337.6,642.3 L338.5,642.3 L339.3,642.2 L340.1,642.2 L340.9,642.2 L341.7,642.1 L342.6,642.1 L343.4,642.1 L344.2,642.0 L345.0,642.0 L345.8,642.0 L346.7,641.9 L347.5,641.9 L348.3,641.8 L349.1,641.8 L350.0,641.7 L350.8,641.7 L351.6,641.6 L352.4,641.6 L353.2,641.5 L354.1,641.5 L354.9,641.4 L355.7,641.3 L356.5,641.3 L357.3,641.2 L358.2,641.1 L359.0,641.0 L359.8,641.0 L360.6,640.9 L361.4,640.8 L362.3,640.7 L363.1,640.6 L363.9,640.5 L364.7,640.4 L365.5,640.3 L366.4,640.2 L367.2,640.1 L368.0,640.0 L368.8,639.8 L369.7,639.7 L370.5,639.6 L371.3,639.4 L372.1,639.3 L372.9,639.1 L373.8,639.0 L374.6,638.8 L375.4,638.6 L376.2,638.4 L377.0,638.2 L377.9,638.0 L378.7,637.8 L379.5,637.5 L380.3,637.3 L381.1,637.1 L382.0,636.8 L382.8,636.5 L383.6,636.2 L384.4,635.9 L385.2,635.6 L386.1,635.3 L386.9,634.9 L387.7,634.6 L388.5,634.2 L389.4,633.8 L390.2,633.4 L391.0,633.0 L391.8,632.6 L392.6,632.1 L393.5,631.7 L394.3,631.2 L395.1,630.7 L395.9,630.1 L396.7,629.6 L397.6,629.0 L398.4,628.5 L399.2,627.9 L400.0,627.2 L400.8,626.6 L401.7,625.9 L402.5,625.2 L403.3,624.5 L404.1,623.8 L405.0,623.0 L405.8,622.2 L406.6,621.4 L407.4,620.6 L408.2,619.7 L409.1,618.8 L409.9,617.9 L410.7,616.9 L411.5,615.9 L412.3,614.8 L413.2,613.8 L414.0,612.7 L414.8,611.5 L415.6,610.3 L416.4,609.1 L417.3,607.8 L418.1,606.5 L418.9,605.1 L419.7,603.7 L420.5,602.2 L421.4,600.7 L422.2,599.2 L423.0,597.6 L423.8,596.0 L424.7,594.3 L425.5,592.6 L426.3,590.9 L427.1,589.2 L427.9,587.4 L428.8,585.6 L429.6,583.7 L430.4,581.9 L431.2,580.0 L432.0,578.2 L432.9,576.3 L433.7,574.5 L434.5,572.6 L435.3,570.8 L436.1,569.1 L437.0,567.4 L437.8,565.7 L438.6,564.1 L439.4,562.5 L440.3,561.1 L441.1,559.7 L441.9,558.4 L442.7,557.3 L443.5,556.2 L444.4,555.3 L445.2,554.4 L446.0,553.8 L446.8,553.2 L447.6,552.8 L448.5,552.6 L449.3,552.5 L450.1,552.5 L450.9,552.8 L451.7,553.1 L452.6,553.7 L453.4,554.4 L454.2,555.2 L455.0,556.2 L455.8,557.4 L456.7,558.6 L457.5,560.1 L458.3,561.6 L459.1,563.3 L460.0,565.1 L460.8,567.0 L461.6,569.0 L462.4,571.1 L463.2,573.2 L464.1,575.4 L464.9,577.7 L465.7,580.1 L466.5,582.4 L467.3,584.8 L468.2,587.2 L469.0,589.6 L469.8,592.0 L470.6,594.4 L471.4,596.8 L472.3,599.2 L473.1,601.5 L473.9,603.7 L474.7,605.9 L475.6,608.1 L476.4,610.2 L477.2,612.2 L478.0,614.2 L478.8,616.0 L479.7,617.9 L480.5,619.6 L481.3,621.2 L482.1,622.8 L482.9,624.3 L483.8,625.7 L484.6,627.1 L485.4,628.3 L486.2,629.5 L487.0,630.6 L487.9,631.6 L488.7,632.6 L489.5,633.5 L490.3,634.3 L491.1,635.1 L492.0,635.8 L492.8,636.5 L493.6,637.1 L494.4,637.6 L495.3,638.1 L496.1,638.6 L496.9,639.0 L497.7,639.4 L498.5,639.8 L499.4,640.1 L500.2,640.4 L501.0,640.6 L501.8,640.8 L502.6,641.1 L503.5,641.2 L504.3,641.4 L505.1,641.6 L505.9,641.7 L506.7,641.8 L507.6,641.9 L508.4,642.0 L509.2,642.1 L510.0,642.2 L510.8,642.2 L511.7,642.3 L512.5,642.3 L513.3,642.4 L514.1,642.4 L515.0,642.5 L515.8,642.5 L516.6,642.5 L517.4,642.5 L518.2,642.6 L519.1,642.6 L519.9,642.6 L520.7,642.6 L521.5,642.6 L522.3,642.6 L523.2,642.6 L524.0,642.6 L524.8,642.7 L525.6,642.7 L526.4,642.7 L527.3,642.7 L528.1,642.7 L528.9,642.7 L529.7,642.7 L530.6,642.7 L531.4,642.7 L532.2,642.7 L533.0,642.7 L533.8,642.7 L534.7,642.7 L535.5,642.7 L536.3,642.7 L537.1,642.7 L537.9,642.7 L538.8,642.7 L539.6,642.7 L540.4,642.7 L541.2,642.7 L542.0,642.7 L542.9,642.7 L543.7,642.7 L544.5,642.7 L545.3,642.7 L546.1,642.7 L547.0,642.7 L547.8,642.7 L548.6,642.7 L549.4,642.7 L550.3,642.7 L551.1,642.7 L551.9,642.7 L552.7,642.7 L553.5,642.7 L554.4,642.7 L555.2,642.7 L556.0,642.7 L556.8,642.7 L557.6,642.7 L558.5,642.7 L559.3,642.7 L560.1,642.7 L560.9,642.7 L561.7,642.7 L562.6,642.7 L563.4,642.7 L564.2,642.7 L565.0,642.7 L565.9,642.7 L566.7,642.7 L567.5,642.7 L568.3,642.7 L569.1,642.7 L570.0,642.7 L570.8,642.7 L571.6,642.7 L572.4,642.7 L573.2,642.7 L574.1,642.7 L574.9,642.7 L575.7,642.7 L576.5,642.7 L577.3,642.7 L578.2,642.7 L579.0,642.7 L579.8,642.7 L580.6,642.7 L581.4,642.7 L582.3,642.7 L583.1,642.7 L583.9,642.7 L584.7,642.7 L585.6,642.7 L586.4,642.7 L587.2,642.7 L588.0,642.7 L588.8,642.7 L589.7,642.7 L590.5,642.7 L591.3,642.7 L592.1,642.7 L592.9,642.7 L593.8,642.7 L594.6,642.7 L595.4,642.7 L596.2,642.7 L597.0,642.7 L597.9,642.7 L598.7,642.7 L599.5,642.7 L600.3,642.7 L601.1,642.7 L602.0,642.7 L602.8,642.7 L603.6,642.7 L604.4,642.7 L605.3,642.7 L606.1,642.7 L606.9,642.7 L607.7,642.7 L608.5,642.7 L609.4,642.7 L610.2,642.7 L611.0,642.7 L611.8,642.7 L612.6,642.7 L613.5,642.7 L614.3,642.7 L615.1,642.7 L615.9,642.7 L616.7,642.7 L617.6,642.7 L618.4,642.7 L619.2,642.7 L620.0,642.7 L620.9,642.7 L621.7,642.7 L622.5,642.7 L623.3,642.7 L624.1,642.7 L625.0,642.7 L625.8,642.7 L626.6,642.7 L627.4,642.7 L628.2,642.7 L629.1,642.7 L629.9,642.7 L630.7,642.7 L631.5,642.7 L632.3,642.7 L633.2,642.7 L634.0,642.7 L634.8,642.7 L635.6,642.7 L636.4,642.7 L637.3,642.7 L638.1,642.7 L638.9,642.7 L639.7,642.7 L640.6,642.7 L641.4,642.7 L642.2,642.7 L643.0,642.7 L643.8,642.7 L644.7,642.7 L645.5,642.7 L646.3,642.7 L647.1,642.7 L647.9,642.7 L648.8,642.7 L649.6,642.7 L650.4,642.7 L651.2,642.7 L652.0,642.7 L652.9,642.7 L653.7,642.7 L653.69,642.7 L79.87,642.7 Z" fill="#32cd32" fill-opacity="0.25" stroke="none"/>
<path d="M79.9,642.7 L80.7,642.7 L81.5,642.7 L82.3,642.7 L83.2,642.7 L84.0,642.7 L84.8,642.7 L85.6,642.7 L86.4,642.7 L87.3,642.7 L88.1,642.7 L88.9,642.7 L89.7,642.7 L90.5,642.7 L91.4,642.7 L92.2,642.7 L93.0,642.7 L93.8,642.7 L94.6,642.7 L95.5,642.7 L96.3,642.7 L97.1,642.7 L97.9,642.7 L98.8,642.7 L99.6,642.7 L100.4,642.7 L101.2,642.7 L102.0,642.7 L102.9,642.7 L103.7,642.7 L104.5,642.7 L105.3,642.7 L106.1,642.7 L107.0,642.7 L107.8,642.7 L108.6,642.7 L109.4,642.7 L110.2,642.7 L111.1,642.7 L111.9,642.7 L112.7,642.7 L113.5,642.7 L114.3,642.7 L115.2,642.7 L116.0,642.7 L116.8,642.7 L117.6,642.7 L118.5,642.7 L119.3,642.7 L120.1,642.7 L120.9,642.7 L121.7,642.7 L122.6,642.7 L123.4,642.7 L124.2,642.7 L125.0,642.7 L125.8,642.7 L126.7,642.7 L127.5,642.7 L128.3,642.7 L129.1,642.7 L129.9,642.7 L130.8,642.7 L131.6,642.7 L132.4,642.7 L133.2,642.7 L134.1,642.7 L134.9,642.7 L135.7,642.7 L136.5,642.7 L137.3,642.7 L138.2,642.7 L139.0,642.7 L139.8,642.7 L140.6,642.7 L141.4,642.7 L142.3,642.7 L143.1,642.7 L143.9,642.7 L144.7,642.7 L145.5,642.7 L146.4,642.7 L147.2,642.7 L148.0,642.7 L148.8,642.7 L149.6,642.7 L150.5,642.7 L151.3,642.7 L152.1,642.7 L152.9,642.7 L153.8,642.7 L154.6,642.7 L155.4,642.7 L156.2,642.7 L157.0,642.7 L157.9,642.7 L158.7,642.7 L159.5,642.7 L160.3,642.7 L161.1,642.7 L162.0,642.7 L162.8,642.7 L163.6,642.7 L164.4,642.7 L165.2,642.7 L166.1,642.7 L166.9,642.7 L167.7,642.7 L168.5,642.7 L169.3,642.7 L170.2,642.7 L171.0,642.7 L171.8,642.7 L172.6,642.7 L173.5,642.7 L174.3,642.7 L175.1,642.7 L175.9,642.7 L176.7,642.7 L177.6,642.7 L178.4,642.7 L179.2,642.7 L180.0,642.7 L180.8,642.7 L181.7,642.7 L182.5,642.7 L183.3,642.7 L184.1,642.7 L184.9,642.7 L185.8,642.7 L186.6,642.7 L187.4,642.7 L188.2,642.7 L189.1,642.7 L189.9,642.7 L190.7,642.7 L191.5,642.7 L192.3,642.7 L193.2,642.7 L194.0,642.7 L194.8,642.7 L195.6,642.7 L196.4,642.7 L197.3,642.7 L198.1,642.7 L198.9,642.7 L199.7,642.7 L200.5,642.7 L201.4,642.7 L202.2,642.7 L203.0,642.7 L203.8,642.7 L204.6,642.7 L205.5,642.7 L206.3,642.7 L207.1,642.7 L207.9,642.7 L208.8,642.7 L209.6,642.7 L210.4,642.7 L211.2,642.7 L212.0,642.7 L212.9,642.7 L213.7,642.7 L214.5,642.7 L215.3,642.7 L216.1,642.7 L217.0,642.7 L217.8,642.7 L218.6,642.7 L219.4,642.7 L220.2,642.7 L221.1,642.7 L221.9,642.7 L222.7,642.7 L223.5,642.7 L224.4,642.7 L225.2,642.7 L226.0,642.7 L226.8,642.7 L227.6,642.7 L228.5,642.7 L229.3,642.7 L230.1,642.7 L230.9,642.7 L231.7,642.7 L232.6,642.7 L233.4,642.7 L234.2,642.7 L235.0,642.7 L235.8,642.7 L236.7,642.7 L237.5,642.7 L238.3,642.7 L239.1,642.7 L239.9,642.7 L240.8,642.7 L241.6,642.7 L242.4,642.7 L243.2,642.7 L244.1,642.7 L244.9,642.7 L245.7,642.7 L246.5,642.7 L247.3,642.7 L248.2,642.7 L249.0,642.7 L249.8,642.7 L250.6,642.7 L251.4,642.7 L252.3,642.7 L253.1,642.7 L253.9,642.7 L254.7,642.7 L255.5,642.7 L256.4,642.7 L257.2,642.7 L258.0,642.7 L258.8,642.7 L259.7,642.7 L260.5,642.7 L261.3,642.7 L262.1,642.7 L262.9,642.7 L263.8,642.7 L264.6,642.7 L265.4,642.7 L266.2,642.7 L267.0,642.7 L267.9,642.7 L268.7,642.7 L269.5,642.7 L270.3,642.7 L271.1,642.7 L272.0,642.7 L272.8,642.7 L273.6,642.7 L274.4,642.7 L275.2,642.7 L276.1,642.7 L276.9,642.7 L277.7,642.7 L278.5,642.7 L279.4,642.7 L280.2,642.7 L281.0,642.7 L281.8,642.7 L282.6,642.7 L283.5,642.7 L284.3,642.7 L285.1,642.7 L285.9,642.7 L286.7,642.7 L287.6,642.7 L288.4,642.7 L289.2,642.7 L290.0,642.7 L290.8,642.7 L291.7,642.7 L292.5,642.7 L293.3,642.7 L294.1,642.7 L294.9,642.7 L295.8,642.7 L296.6,642.7 L297.4,642.7 L298.2,642.7 L299.1,642.7 L299.9,642.7 L300.7,642.7 L301.5,642.7 L302.3,642.7 L303.2,642.7 L304.0,642.7 L304.8,642.7 L305.6,642.7 L306.4,642.7 L307.3,642.7 L308.1,642.7 L308.9,642.7 L309.7,642.7 L310.5,642.7 L311.4,642.7 L312.2,642.7 L313.0,642.7 L313.8,642.7 L314.7,642.7 L315.5,642.6 L316.3,642.6 L317.1,642.6 L317.9,642.6 L318.8,642.6 L319.6,642.6 L320.4,642.6 L321.2,642.6 L322.0,642.6 L322.9,642.6 L323.7,642.6 L324.5,642.6 L325.3,642.6 L326.1,642.5 L327.0,642.5 L327.8,642.5 L328.6,642.5 L329.4,642.5 L330.2,642.5 L331.1,642.5 L331.9,642.4 L332.7,642.4 L333.5,642.4 L334.4,642.4 L335.2,642.4 L336.0,642.3 L336.8,642.3 L337.6,642.3 L338.5,642.3 L339.3,642.2 L340.1,642.2 L340.9,642.2 L341.7,642.1 L342.6,642.1 L343.4,642.1 L344.2,642.0 L345.0,642.0 L345.8,642.0 L346.7,641.9 L347.5,641.9 L348.3,641.8 L349.1,641.8 L350.0,641.7 L350.8,641.7 L351.6,641.6 L352.4,641.6 L353.2,641.5 L354.1,641.5 L354.9,641.4 L355.7,641.3 L356.5,641.3 L357.3,641.2 L358.2,641.1 L359.0,641.0 L359.8,641.0 L360.6,640.9 L361.4,640.8 L362.3,640.7 L363.1,640.6 L363.9,640.5 L364.7,640.4 L365.5,640.3 L366.4,640.2 L367.2,640.1 L368.0,640.0 L368.8,639.8 L369.7,639.7 L370.5,639.6 L371.3,639.4 L372.1,639.3 L372.9,639.1 L373.8,639.0 L374.6,638.8 L375.4,638.6 L376.2,638.4 L377.0,638.2 L377.9,638.0 L378.7,637.8 L379.5,637.5 L380.3,637.3 L381.1,637.1 L382.0,636.8 L382.8,636.5 L383.6,636.2 L384.4,635.9 L385.2,635.6 L386.1,635.3 L386.9,634.9 L387.7,634.6 L388.5,634.2 L389.4,633.8 L390.2,633.4 L391.0,633.0 L391.8,632.6 L392.6,632.1 L393.5,631.7 L394.3,631.2 L395.1,630.7 L395.9,630.1 L396.7,629.6 L397.6,629.0 L398.4,628.5 L399.2,627.9 L400.0,627.2 L400.8,626.6 L401.7,625.9 L402.5,625.2 L403.3,624.5 L404.1,623.8 L405.0,623.0 L405.8,622.2 L406.6,621.4 L407.4,620.6 L408.2,619.7 L409.1,618.8 L409.9,617.9 L410.7,616.9 L411.5,615.9 L412.3,614.8 L413.2,613.8 L414.0,612.7 L414.8,611.5 L415.6,610.3 L416.4,609.1 L417.3,607.8 L418.1,606.5 L418.9,605.1 L419.7,603.7 L420.5,602.2 L421.4,600.7 L422.2,599.2 L423.0,597.6 L423.8,596.0 L424.7,594.3 L425.5,592.6 L426.3,590.9 L427.1,589.2 L427.9,587.4 L428.8,585.6 L429.6,583.7 L430.4,581.9 L431.2,580.0 L432.0,578.2 L432.9,576.3 L433.7,574.5 L434.5,572.6 L435.3,570.8 L436.1,569.1 L437.0,567.4 L437.8,565.7 L438.6,564.1 L439.4,562.5 L440.3,561.1 L441.1,559.7 L441.9,558.4 L442.7,557.3 L443.5,556.2 L444.4,555.3 L445.2,554.4 L446.0,553.8 L446.8,553.2 L447.6,552.8 L448.5,552.6 L449.3,552.5 L450.1,552.5 L450.9,552.8 L451.7,553.1 L452.6,553.7 L453.4,554.4 L454.2,555.2 L455.0,556.2 L455.8,557.4 L456.7,558.6 L457.5,560.1 L458.3,561.6 L459.1,563.3 L460.0,565.1 L460.8,567.0 L461.6,569.0 L462.4,571.1 L463.2,573.2 L464.1,575.4 L464.9,577.7 L465.7,580.1 L466.5,582.4 L467.3,584.8 L468.2,587.2 L469.0,589.6 L469.8,592.0 L470.6,594.4 L471.4,596.8 L472.3,599.2 L473.1,601.5 L473.9,603.7 L474.7,605.9 L475.6,608.1 L476.4,610.2 L477.2,612.2 L478.0,614.2 L478.8,616.0 L479.7,617.9 L480.5,619.6 L481.3,621.2 L482.1,622.8 L482.9,624.3 L483.8,625.7 L484.6,627.1 L485.4,628.3 L486.2,629.5 L487.0,630.6 L487.9,631.6 L488.7,632.6 L489.5,633.5 L490.3,634.3 L491.1,635.1 L492.0,635.8 L492.8,636.5 L493.6,637.1 L494.4,637.6 L495.3,638.1 L496.1,638.6 L496.9,639.0 L497.7,639.4 L498.5,639.8 L499.4,640.1 L500.2,640.4 L501.0,640.6 L501.8,640.8 L502.6,641.1 L503.5,641.2 L504.3,641.4 L505.1,641.6 L505.9,641.7 L506.7,641.8 L507.6,641.9 L508.4,642.0 L509.2,642.1 L510.0,642.2 L510.8,642.2 L511.7,642.3 L512.5,642.3 L513.3,642.4 L514.1,642.4 L515.0,642.5 L515.8,642.5 L516.6,642.5 L517.4,642.5 L518.2,642.6 L519.1,642.6 L519.9,642.6 L520.7,642.6 L521.5,642.6 L522.3,642.6 L523.2,642.6 L524.0,642.6 L524.8,642.7 L525.6,642.7 L526.4,642.7 L527.3,642.7 L528.1,642.7 L528.9,642.7 L529.7,642.7 L530.6,642.7 L531.4,642.7 L532.2,642.7 L533.0,642.7 L533.8,642.7 L534.7,642.7 L535.5,642.7 L536.3,642.7 L537.1,642.7 L537.9,642.7 L538.8,642.7 L539.6,642.7 L540.4,642.7 L541.2,642.7 L542.0,642.7 L542.9,642.7 L543.7,642.7 L544.5,642.7 L545.3,642.7 L546.1,642.7 L547.0,642.7 L547.8,642.7 L548.6,642.7 L549.4,642.7 L550.3,642.7 L551.1,642.7 L551.9,642.7 L552.7,642.7 L553.5,642.7 L554.4,642.7 L555.2,642.7 L556.0,642.7 L556.8,642.7 L557.6,642.7 L558.5,642.7 L559.3,642.7 L560.1,642.7 L560.9,642.7 L561.7,642.7 L562.6,642.7 L563.4,642.7 L564.2,642.7 L565.0,642.7 L565.9,642.7 L566.7,642.7 L567.5,642.7 L568.3,642.7 L569.1,642.7 L570.0,642.7 L570.8,642.7 L571.6,642.7 L572.4,642.7 L573.2,642.7 L574.1,642.7 L574.9,642.7 L575.7,642.7 L576.5,642.7 L577.3,642.7 L578.2,642.7 L579.0,642.7 L579.8,642.7 L580.6,642.7 L581.4,642.7 L582.3,642.7 L583.1,642.7 L583.9,642.7 L584.7,642.7 L585.6,642.7 L586.4,642.7 L587.2,642.7 L588.0,642.7 L588.8,642.7 L589.7,642.7 L590.5,642.7 L591.3,642.7 L592.1,642.7 L592.9,642.7 L593.8,642.7 L594.6,642.7 L595.4,642.7 L596.2,642.7 L597.0,642.7 L597.9,642.7 L598.7,642.7 L599.5,642.7 L600.3,642.7 L601.1,642.7 L602.0,642.7 L602.8,642.7 L603.6,642.7 L604.4,642.7 L605.3,642.7 L606.1,642.7 L606.9,642.7 L607.7,642.7 L608.5,642.7 L609.4,642.7 L610.2,642.7 L611.0,642.7 L611.8,642.7 L612.6,642.7 L613.5,642.7 L614.3,642.7 L615.1,642.7 L615.9,642.7 L616.7,642.7 L617.6,642.7 L618.4,642.7 L619.2,642.7 L620.0,642.7 L620.9,642.7 L621.7,642.7 L622.5,642.7 L623.3,642.7 L624.1,642.7 L625.0,642.7 L625.8,642.7 L626.6,642.7 L627.4,642.7 L628.2,642.7 L629.1,642.7 L629.9,642.7 L630.7,642.7 L631.5,642.7 L632.3,642.7 L633.2,642.7 L634.0,642.7 L634.8,642.7 L635.6,642.7 L636.4,642.7 L637.3,642.7 L638.1,642.7 L638.9,642.7 L639.7,642.7 L640.6,642.7 L641.4,642.7 L642.2,642.7 L643.0,642.7 L643.8,642.7 L644.7,642.7 L645.5,642.7 L646.3,642.7 L647.1,642.7 L647.9,642.7 L648.8,642.7 L649.6,642.7 L650.4,642.7 L651.2,642.7 L652.0,642.7 L652.9,642.7 L653.7,642.7" fill="none" stroke="#5ccf5c" stroke-width="1.3" stroke-opacity="1.0" stroke-linejoin="round"/>
<path d="M459.0,642.7 L459.3,642.7 L459.5,642.7 L459.8,642.7 L460.0,642.6 L460.3,642.6 L460.5,642.6 L460.8,642.6 L461.1,642.5 L461.3,642.5 L461.6,642.4 L461.8,642.4 L462.1,642.3 L462.3,642.2 L462.6,642.1 L462.8,642.0 L463.1,641.9 L463.4,641.7 L463.6,641.6 L463.9,641.4 L464.1,641.2 L464.4,641.0 L464.6,640.8 L464.9,640.6 L465.2,640.4 L465.4,640.2 L465.7,639.9 L465.9,639.7 L466.2,639.6 L466.4,639.4 L466.7,639.2 L467.0,639.1 L467.2,639.0 L467.5,639.0 L467.7,638.9 L468.0,638.9 L468.2,638.9 L468.5,639.0 L468.7,639.0 L469.0,639.1 L469.3,639.2 L469.5,639.4 L469.8,639.5 L470.0,639.6 L470.3,639.7 L470.5,639.8 L470.8,639.9 L471.1,640.0 L471.3,640.1 L471.6,640.1 L471.8,640.1 L472.1,640.1 L472.3,640.1 L472.6,640.0 L472.9,640.0 L473.1,639.9 L473.4,639.7 L473.6,639.6 L473.9,639.4 L474.1,639.2 L474.4,639.0 L474.6,638.8 L474.9,638.5 L475.2,638.3 L475.4,638.0 L475.7,637.7 L475.9,637.4 L476.2,637.1 L476.4,636.8 L476.7,636.5 L477.0,636.1 L477.2,635.8 L477.5,635.5 L477.7,635.1 L478.0,634.8 L478.2,634.5 L478.5,634.2 L478.8,633.8 L479.0,633.5 L479.3,633.2 L479.5,632.9 L479.8,632.6 L480.0,632.3 L480.3,632.0 L480.5,631.8 L480.8,631.5 L481.1,631.3 L481.3,631.0 L481.6,630.8 L481.8,630.6 L482.1,630.4 L482.3,630.1 L482.6,629.9 L482.9,629.7 L483.1,629.5 L483.4,629.4 L483.6,629.2 L483.9,629.0 L484.1,628.8 L484.4,628.5 L484.7,628.3 L484.9,628.1 L485.2,627.8 L485.4,627.5 L485.7,627.2 L485.9,626.9 L486.2,626.6 L486.4,626.2 L486.7,625.7 L487.0,625.3 L487.2,624.8 L487.5,624.2 L487.7,623.6 L488.0,622.9 L488.2,622.2 L488.5,621.4 L488.8,620.6 L489.0,619.7 L489.3,618.7 L489.5,617.7 L489.8,616.6 L490.0,615.4 L490.3,614.1 L490.6,612.8 L490.8,611.4 L491.1,609.9 L491.3,608.3 L491.6,606.7 L491.8,604.9 L492.1,603.1 L492.3,601.2 L492.6,599.2 L492.9,597.2 L493.1,595.0 L493.4,592.8 L493.6,590.5 L493.9,588.1 L494.1,585.7 L494.4,583.1 L494.7,580.5 L494.9,577.9 L495.2,575.1 L495.4,572.3 L495.7,569.5 L495.9,566.5 L496.2,563.6 L496.5,560.6 L496.7,557.5 L497.0,554.4 L497.2,551.3 L497.5,548.1 L497.7,544.9 L498.0,541.7 L498.2,538.4 L498.5,535.2 L498.8,531.9 L499.0,528.7 L499.3,525.5 L499.5,522.3 L499.8,519.1 L500.0,515.9 L500.3,512.7 L500.6,509.6 L500.8,506.6 L501.1,503.6 L501.3,500.7 L501.6,497.8 L501.8,495.0 L502.1,492.2 L502.4,489.6 L502.6,487.1 L502.9,484.6 L503.1,482.2 L503.4,480.0 L503.6,477.8 L503.9,475.8 L504.1,473.9 L504.4,472.1 L504.7,470.5 L504.9,468.9 L505.2,467.5 L505.4,466.3 L505.7,465.1 L505.9,464.2 L506.2,463.3 L506.5,462.6 L506.7,462.0 L507.0,461.6 L507.2,461.3 L507.5,461.2 L507.7,461.2 L508.0,461.4 L508.3,461.6 L508.5,462.1 L508.8,462.6 L509.0,463.3 L509.3,464.1 L509.5,465.0 L509.8,466.1 L510.0,467.3 L510.3,468.6 L510.6,469.9 L510.8,471.4 L511.1,473.0 L511.3,474.7 L511.6,476.5 L511.8,478.4 L512.1,480.3 L512.4,482.4 L512.6,484.5 L512.9,486.6 L513.1,488.8 L513.4,491.1 L513.6,493.4 L513.9,495.8 L514.2,498.2 L514.4,500.6 L514.7,503.1 L514.9,505.6 L515.2,508.1 L515.4,510.6 L515.7,513.1 L515.9,515.7 L516.2,518.2 L516.5,520.7 L516.7,523.3 L517.0,525.8 L517.2,528.3 L517.5,530.8 L517.7,533.3 L518.0,535.7 L518.3,538.2 L518.5,540.6 L518.8,543.0 L519.0,545.3 L519.3,547.6 L519.5,549.9 L519.8,552.2 L520.1,554.4 L520.3,556.6 L520.6,558.7 L520.8,560.8 L521.1,562.9 L521.3,564.9 L521.6,566.9 L521.8,568.9 L522.1,570.8 L522.4,572.6 L522.6,574.5 L522.9,576.2 L523.1,578.0 L523.4,579.7 L523.6,581.4 L523.9,583.0 L524.2,584.6 L524.4,586.1 L524.7,587.6 L524.9,589.1 L525.2,590.5 L525.4,591.9 L525.7,593.2 L525.9,594.5 L526.2,595.8 L526.5,597.1 L526.7,598.3 L527.0,599.4 L527.2,600.6 L527.5,601.7 L527.7,602.7 L528.0,603.8 L528.3,604.8 L528.5,605.8 L528.8,606.7 L529.0,607.6 L529.3,608.5 L529.5,609.4 L529.8,610.2 L530.1,611.0 L530.3,611.8 L530.6,612.5 L530.8,613.2 L531.1,613.9 L531.3,614.6 L531.6,615.2 L531.8,615.9 L532.1,616.5 L532.4,617.1 L532.6,617.6 L532.9,618.1 L533.1,618.7 L533.4,619.2 L533.6,619.6 L533.9,620.1 L534.2,620.5 L534.4,621.0 L534.7,621.4 L534.9,621.8 L535.2,622.1 L535.4,622.5 L535.7,622.8 L536.0,623.2 L536.2,623.5 L536.5,623.8 L536.7,624.1 L537.0,624.4 L537.2,624.6 L537.5,624.9 L537.7,625.1 L538.0,625.4 L538.3,625.6 L538.5,625.8 L538.8,626.0 L539.0,626.2 L539.3,626.4 L539.5,626.6 L539.8,626.8 L540.1,627.0 L540.3,627.2 L540.6,627.4 L540.8,627.5 L541.1,627.7 L541.3,627.8 L541.6,628.0 L541.9,628.2 L542.1,628.3 L542.4,628.5 L542.6,628.6 L542.9,628.8 L543.1,628.9 L543.4,629.1 L543.6,629.2 L543.9,629.4 L544.2,629.5 L544.4,629.7 L544.7,629.8 L544.9,629.9 L545.2,630.1 L545.4,630.2 L545.7,630.4 L546.0,630.5 L546.2,630.7 L546.5,630.9 L546.7,631.0 L547.0,631.2 L547.2,631.3 L547.5,631.5 L547.8,631.6 L548.0,631.8 L548.3,632.0 L548.5,632.1 L548.8,632.3 L549.0,632.5 L549.3,632.6 L549.5,632.8 L549.8,633.0 L550.1,633.1 L550.3,633.3 L550.6,633.5 L550.8,633.6 L551.1,633.8 L551.3,634.0 L551.6,634.2 L551.9,634.3 L552.1,634.5 L552.4,634.7 L552.6,634.9 L552.9,635.0 L553.1,635.2 L553.4,635.4 L553.7,635.5 L553.9,635.7 L554.2,635.9 L554.4,636.1 L554.7,636.2 L554.9,636.4 L555.2,636.6 L555.4,636.7 L555.7,636.9 L556.0,637.0 L556.2,637.2 L556.5,637.3 L556.7,637.5 L557.0,637.6 L557.2,637.8 L557.5,637.9 L557.8,638.0 L558.0,638.2 L558.3,638.3 L558.5,638.3 L558.8,638.4 L559.0,638.5 L559.3,638.5 L559.6,638.5 L559.8,638.5 L560.1,638.4 L560.3,638.3 L560.6,638.2 L560.8,638.0 L561.1,637.8 L561.3,637.6 L561.6,637.4 L561.9,637.1 L562.1,636.9 L562.4,636.7 L562.6,636.5 L562.9,636.3 L563.1,636.2 L563.4,636.2 L563.7,636.2 L563.9,636.3 L564.2,636.4 L564.4,636.6 L564.7,636.9 L564.9,637.2 L565.2,637.6 L565.5,637.9 L565.7,638.3 L566.0,638.7 L566.2,639.1 L566.5,639.5 L566.7,639.9 L567.0,640.2 L567.2,640.5 L567.5,640.8 L567.8,641.0 L568.0,641.2 L568.3,641.4 L568.5,641.6 L568.8,641.7 L569.0,641.8 L569.3,641.9 L569.6,642.0 L569.8,642.0 L570.1,642.1 L570.3,642.1 L570.6,642.1 L570.8,642.2 L571.1,642.2 L571.4,642.2 L571.6,642.2 L571.9,642.2 L572.1,642.2 L572.4,642.2 L572.6,642.2 L572.9,642.2 L573.1,642.1 L573.4,642.1 L573.7,642.1 L573.9,642.0 L574.2,641.9 L574.4,641.9 L574.7,641.8 L574.9,641.7 L575.2,641.6 L575.5,641.5 L575.7,641.4 L576.0,641.3 L576.2,641.1 L576.5,641.0 L576.7,640.9 L577.0,640.8 L577.3,640.8 L577.5,640.7 L577.8,640.6 L578.0,640.6 L578.3,640.6 L578.5,640.6 L578.8,640.6 L579.0,640.6 L579.3,640.7 L579.6,640.7 L579.8,640.8 L580.1,640.9 L580.3,641.0 L580.6,641.1 L580.8,641.2 L581.1,641.3 L581.4,641.4 L581.6,641.6 L581.9,641.7 L582.1,641.8 L582.4,641.9 L582.6,642.0 L582.9,642.1 L583.2,642.2 L583.4,642.3 L583.7,642.3 L583.9,642.4 L584.2,642.4 L584.4,642.5 L584.7,642.5 L584.9,642.6 L585.2,642.6 L585.5,642.6 L585.7,642.6 L586.0,642.6 L586.2,642.7 L586.5,642.7 L586.7,642.7 L587.0,642.7 L587,642.7 L459,642.7 Z" fill="#0000ff" fill-opacity="0.25" stroke="none"/>
<path d="M459.0,642.7 L459.3,642.7 L459.5,642.7 L459.8,642.7 L460.0,642.6 L460.3,642.6 L460.5,642.6 L460.8,642.6 L461.1,642.5 L461.3,642.5 L461.6,642.4 L461.8,642.4 L462.1,642.3 L462.3,642.2 L462.6,642.1 L462.8,642.0 L463.1,641.9 L463.4,641.7 L463.6,641.6 L463.9,641.4 L464.1,641.2 L464.4,641.0 L464.6,640.8 L464.9,640.6 L465.2,640.4 L465.4,640.2 L465.7,639.9 L465.9,639.7 L466.2,639.6 L466.4,639.4 L466.7,639.2 L467.0,639.1 L467.2,639.0 L467.5,639.0 L467.7,638.9 L468.0,638.9 L468.2,638.9 L468.5,639.0 L468.7,639.0 L469.0,639.1 L469.3,639.2 L469.5,639.4 L469.8,639.5 L470.0,639.6 L470.3,639.7 L470.5,639.8 L470.8,639.9 L471.1,640.0 L471.3,640.1 L471.6,640.1 L471.8,640.1 L472.1,640.1 L472.3,640.1 L472.6,640.0 L472.9,640.0 L473.1,639.9 L473.4,639.7 L473.6,639.6 L473.9,639.4 L474.1,639.2 L474.4,639.0 L474.6,638.8 L474.9,638.5 L475.2,638.3 L475.4,638.0 L475.7,637.7 L475.9,637.4 L476.2,637.1 L476.4,636.8 L476.7,636.5 L477.0,636.1 L477.2,635.8 L477.5,635.5 L477.7,635.1 L478.0,634.8 L478.2,634.5 L478.5,634.2 L478.8,633.8 L479.0,633.5 L479.3,633.2 L479.5,632.9 L479.8,632.6 L480.0,632.3 L480.3,632.0 L480.5,631.8 L480.8,631.5 L481.1,631.3 L481.3,631.0 L481.6,630.8 L481.8,630.6 L482.1,630.4 L482.3,630.1 L482.6,629.9 L482.9,629.7 L483.1,629.5 L483.4,629.4 L483.6,629.2 L483.9,629.0 L484.1,628.8 L484.4,628.5 L484.7,628.3 L484.9,628.1 L485.2,627.8 L485.4,627.5 L485.7,627.2 L485.9,626.9 L486.2,626.6 L486.4,626.2 L486.7,625.7 L487.0,625.3 L487.2,624.8 L487.5,624.2 L487.7,623.6 L488.0,622.9 L488.2,622.2 L488.5,621.4 L488.8,620.6 L489.0,619.7 L489.3,618.7 L489.5,617.7 L489.8,616.6 L490.0,615.4 L490.3,614.1 L490.6,612.8 L490.8,611.4 L491.1,609.9 L491.3,608.3 L491.6,606.7 L491.8,604.9 L492.1,603.1 L492.3,601.2 L492.6,599.2 L492.9,597.2 L493.1,595.0 L493.4,592.8 L493.6,590.5 L493.9,588.1 L494.1,585.7 L494.4,583.1 L494.7,580.5 L494.9,577.9 L495.2,575.1 L495.4,572.3 L495.7,569.5 L495.9,566.5 L496.2,563.6 L496.5,560.6 L496.7,557.5 L497.0,554.4 L497.2,551.3 L497.5,548.1 L497.7,544.9 L498.0,541.7 L498.2,538.4 L498.5,535.2 L498.8,531.9 L499.0,528.7 L499.3,525.5 L499.5,522.3 L499.8,519.1 L500.0,515.9 L500.3,512.7 L500.6,509.6 L500.8,506.6 L501.1,503.6 L501.3,500.7 L501.6,497.8 L501.8,495.0 L502.1,492.2 L502.4,489.6 L502.6,487.1 L502.9,484.6 L503.1,482.2 L503.4,480.0 L503.6,477.8 L503.9,475.8 L504.1,473.9 L504.4,472.1 L504.7,470.5 L504.9,468.9 L505.2,467.5 L505.4,466.3 L505.7,465.1 L505.9,464.2 L506.2,463.3 L506.5,462.6 L506.7,462.0 L507.0,461.6 L507.2,461.3 L507.5,461.2 L507.7,461.2 L508.0,461.4 L508.3,461.6 L508.5,462.1 L508.8,462.6 L509.0,463.3 L509.3,464.1 L509.5,465.0 L509.8,466.1 L510.0,467.3 L510.3,468.6 L510.6,469.9 L510.8,471.4 L511.1,473.0 L511.3,474.7 L511.6,476.5 L511.8,478.4 L512.1,480.3 L512.4,482.4 L512.6,484.5 L512.9,486.6 L513.1,488.8 L513.4,491.1 L513.6,493.4 L513.9,495.8 L514.2,498.2 L514.4,500.6 L514.7,503.1 L514.9,505.6 L515.2,508.1 L515.4,510.6 L515.7,513.1 L515.9,515.7 L516.2,518.2 L516.5,520.7 L516.7,523.3 L517.0,525.8 L517.2,528.3 L517.5,530.8 L517.7,533.3 L518.0,535.7 L518.3,538.2 L518.5,540.6 L518.8,543.0 L519.0,545.3 L519.3,547.6 L519.5,549.9 L519.8,552.2 L520.1,554.4 L520.3,556.6 L520.6,558.7 L520.8,560.8 L521.1,562.9 L521.3,564.9 L521.6,566.9 L521.8,568.9 L522.1,570.8 L522.4,572.6 L522.6,574.5 L522.9,576.2 L523.1,578.0 L523.4,579.7 L523.6,581.4 L523.9,583.0 L524.2,584.6 L524.4,586.1 L524.7,587.6 L524.9,589.1 L525.2,590.5 L525.4,591.9 L525.7,593.2 L525.9,594.5 L526.2,595.8 L526.5,597.1 L526.7,598.3 L527.0,599.4 L527.2,600.6 L527.5,601.7 L527.7,602.7 L528.0,603.8 L528.3,604.8 L528.5,605.8 L528.8,606.7 L529.0,607.6 L529.3,608.5 L529.5,609.4 L529.8,610.2 L530.1,611.0 L530.3,611.8 L530.6,612.5 L530.8,613.2 L531.1,613.9 L531.3,614.6 L531.6,615.2 L531.8,615.9 L532.1,616.5 L532.4,617.1 L532.6,617.6 L532.9,618.1 L533.1,618.7 L533.4,619.2 L533.6,619.6 L533.9,620.1 L534.2,620.5 L534.4,621.0 L534.7,621.4 L534.9,621.8 L535.2,622.1 L535.4,622.5 L535.7,622.8 L536.0,623.2 L536.2,623.5 L536.5,623.8 L536.7,624.1 L537.0,624.4 L537.2,624.6 L537.5,624.9 L537.7,625.1 L538.0,625.4 L538.3,625.6 L538.5,625.8 L538.8,626.0 L539.0,626.2 L539.3,626.4 L539.5,626.6 L539.8,626.8 L540.1,627.0 L540.3,627.2 L540.6,627.4 L540.8,627.5 L541.1,627.7 L541.3,627.8 L541.6,628.0 L541.9,628.2 L542.1,628.3 L542.4,628.5 L542.6,628.6 L542.9,628.8 L543.1,628.9 L543.4,629.1 L543.6,629.2 L543.9,629.4 L544.2,629.5 L544.4,629.7 L544.7,629.8 L544.9,629.9 L545.2,630.1 L545.4,630.2 L545.7,630.4 L546.0,630.5 L546.2,630.7 L546.5,630.9 L546.7,631.0 L547.0,631.2 L547.2,631.3 L547.5,631.5 L547.8,631.6 L548.0,631.8 L548.3,632.0 L548.5,632.1 L548.8,632.3 L549.0,632.5 L549.3,632.6 L549.5,632.8 L549.8,633.0 L550.1,633.1 L550.3,633.3 L550.6,633.5 L550.8,633.6 L551.1,633.8 L551.3,634.0 L551.6,634.2 L551.9,634.3 L552.1,634.5 L552.4,634.7 L552.6,634.9 L552.9,635.0 L553.1,635.2 L553.4,635.4 L553.7,635.5 L553.9,635.7 L554.2,635.9 L554.4,636.1 L554.7,636.2 L554.9,636.4 L555.2,636.6 L555.4,636.7 L555.7,636.9 L556.0,637.0 L556.2,637.2 L556.5,637.3 L556.7,637.5 L557.0,637.6 L557.2,637.8 L557.5,637.9 L557.8,638.0 L558.0,638.2 L558.3,638.3 L558.5,638.3 L558.8,638.4 L559.0,638.5 L559.3,638.5 L559.6,638.5 L559.8,638.5 L560.1,638.4 L560.3,638.3 L560.6,638.2 L560.8,638.0 L561.1,637.8 L561.3,637.6 L561.6,637.4 L561.9,637.1 L562.1,636.9 L562.4,636.7 L562.6,636.5 L562.9,636.3 L563.1,636.2 L563.4,636.2 L563.7,636.2 L563.9,636.3 L564.2,636.4 L564.4,636.6 L564.7,636.9 L564.9,637.2 L565.2,637.6 L565.5,637.9 L565.7,638.3 L566.0,638.7 L566.2,639.1 L566.5,639.5 L566.7,639.9 L567.0,640.2 L567.2,640.5 L567.5,640.8 L567.8,641.0 L568.0,641.2 L568.3,641.4 L568.5,641.6 L568.8,641.7 L569.0,641.8 L569.3,641.9 L569.6,642.0 L569.8,642.0 L570.1,642.1 L570.3,642.1 L570.6,642.1 L570.8,642.2 L571.1,642.2 L571.4,642.2 L571.6,642.2 L571.9,642.2 L572.1,642.2 L572.4,642.2 L572.6,642.2 L572.9,642.2 L573.1,642.1 L573.4,642.1 L573.7,642.1 L573.9,642.0 L574.2,641.9 L574.4,641.9 L574.7,641.8 L574.9,641.7 L575.2,641.6 L575.5,641.5 L575.7,641.4 L576.0,641.3 L576.2,641.1 L576.5,641.0 L576.7,640.9 L577.0,640.8 L577.3,640.8 L577.5,640.7 L577.8,640.6 L578.0,640.6 L578.3,640.6 L578.5,640.6 L578.8,640.6 L579.0,640.6 L579.3,640.7 L579.6,640.7 L579.8,640.8 L580.1,640.9 L580.3,641.0 L580.6,641.1 L580.8,641.2 L581.1,641.3 L581.4,641.4 L581.6,641.6 L581.9,641.7 L582.1,641.8 L582.4,641.9 L582.6,642.0 L582.9,642.1 L583.2,642.2 L583.4,642.3 L583.7,642.3 L583.9,642.4 L584.2,642.4 L584.4,642.5 L584.7,642.5 L584.9,642.6 L585.2,642.6 L585.5,642.6 L585.7,642.6 L586.0,642.6 L586.2,642.7 L586.5,642.7 L586.7,642.7 L587.0,642.7" fill="none" stroke="#3a3aff" stroke-width="1.3" stroke-opacity="1.0" stroke-linejoin="round"/>
<line x1="452.5" y1="623.2" x2="452.5" y2="643" stroke="#ff0000" stroke-width="1.45" stroke-opacity="0.78"/>
<line x1="490.4" y1="623.2" x2="490.4" y2="643" stroke="#ff0000" stroke-width="1.45" stroke-opacity="0.78"/>
<line x1="495.8" y1="623.2" x2="495.8" y2="643" stroke="#ff0000" stroke-width="1.45" stroke-opacity="0.78"/>
<line x1="498.6" y1="623.2" x2="498.6" y2="643" stroke="#ff0000" stroke-width="1.45" stroke-opacity="0.78"/>
<line x1="499.9" y1="623.2" x2="499.9" y2="643" stroke="#ff0000" stroke-width="1.45" stroke-opacity="0.78"/>
<line x1="501.1" y1="623.2" x2="501.1" y2="643" stroke="#ff0000" stroke-width="1.45" stroke-opacity="0.78"/>
<line x1="502.4" y1="623.2" x2="502.4" y2="643" stroke="#ff0000" stroke-width="1.45" stroke-opacity="0.78"/>
<line x1="504.2" y1="623.2" x2="504.2" y2="643" stroke="#ff0000" stroke-width="1.45" stroke-opacity="0.78"/>
<line x1="505.3" y1="623.2" x2="505.3" y2="643" stroke="#ff0000" stroke-width="1.45" stroke-opacity="0.78"/>
<line x1="506.4" y1="623.2" x2="506.4" y2="643" stroke="#ff0000" stroke-width="1.45" stroke-opacity="0.78"/>
<line x1="507.5" y1="623.2" x2="507.5" y2="643" stroke="#ff0000" stroke-width="1.45" stroke-opacity="0.78"/>
<line x1="508.6" y1="623.2" x2="508.6" y2="643" stroke="#ff0000" stroke-width="1.45" stroke-opacity="0.78"/>
<line x1="509.7" y1="623.2" x2="509.7" y2="643" stroke="#ff0000" stroke-width="1.45" stroke-opacity="0.78"/>
<line x1="511.2" y1="623.2" x2="511.2" y2="643" stroke="#ff0000" stroke-width="1.45" stroke-opacity="0.78"/>
<line x1="513.4" y1="623.2" x2="513.4" y2="643" stroke="#ff0000" stroke-width="1.45" stroke-opacity="0.78"/>
<line x1="514.8" y1="623.2" x2="514.8" y2="643" stroke="#ff0000" stroke-width="1.45" stroke-opacity="0.78"/>
<line x1="517.6" y1="623.2" x2="517.6" y2="643" stroke="#ff0000" stroke-width="1.45" stroke-opacity="0.78"/>
<line x1="519.6" y1="623.2" x2="519.6" y2="643" stroke="#ff0000" stroke-width="1.45" stroke-opacity="0.78"/>
<line x1="523.6" y1="623.2" x2="523.6" y2="643" stroke="#ff0000" stroke-width="1.45" stroke-opacity="0.78"/>
<line x1="528.7" y1="623.2" x2="528.7" y2="643" stroke="#ff0000" stroke-width="1.45" stroke-opacity="0.78"/>
<line x1="539.3" y1="623.2" x2="539.3" y2="643" stroke="#ff0000" stroke-width="1.45" stroke-opacity="0.78"/>
<line x1="94.2" y1="585.2" x2="94.2" y2="602.7" stroke="#008000" stroke-width="1.45" stroke-opacity="0.78"/>
<line x1="397.1" y1="585.2" x2="397.1" y2="602.7" stroke="#008000" stroke-width="1.45" stroke-opacity="0.78"/>
<line x1="410.7" y1="585.2" x2="410.7" y2="602.7" stroke="#008000" stroke-width="1.45" stroke-opacity="0.78"/>
<line x1="418.5" y1="585.2" x2="418.5" y2="602.7" stroke="#008000" stroke-width="1.45" stroke-opacity="0.78"/>
<line x1="424.3" y1="585.2" x2="424.3" y2="602.7" stroke="#008000" stroke-width="1.45" stroke-opacity="0.78"/>
<line x1="429.4" y1="585.2" x2="429.4" y2="602.7" stroke="#008000" stroke-width="1.45" stroke-opacity="0.78"/>
<line x1="432.9" y1="585.2" x2="432.9" y2="602.7" stroke="#008000" stroke-width="1.45" stroke-opacity="0.78"/>
<line x1="436.2" y1="585.2" x2="436.2" y2="602.7" stroke="#008000" stroke-width="1.45" stroke-opacity="0.78"/>
<line x1="439.5" y1="585.2" x2="439.5" y2="602.7" stroke="#008000" stroke-width="1.45" stroke-opacity="0.78"/>
<line x1="442.5" y1="585.2" x2="442.5" y2="602.7" stroke="#008000" stroke-width="1.45" stroke-opacity="0.78"/>
<line x1="445.4" y1="585.2" x2="445.4" y2="602.7" stroke="#008000" stroke-width="1.45" stroke-opacity="0.78"/>
<line x1="448.3" y1="585.2" x2="448.3" y2="602.7" stroke="#008000" stroke-width="1.45" stroke-opacity="0.78"/>
<line x1="450.5" y1="585.2" x2="450.5" y2="602.7" stroke="#008000" stroke-width="1.45" stroke-opacity="0.78"/>
<line x1="453.4" y1="585.2" x2="453.4" y2="602.7" stroke="#008000" stroke-width="1.45" stroke-opacity="0.78"/>
<line x1="456.2" y1="585.2" x2="456.2" y2="602.7" stroke="#008000" stroke-width="1.45" stroke-opacity="0.78"/>
<line x1="458.9" y1="585.2" x2="458.9" y2="602.7" stroke="#008000" stroke-width="1.45" stroke-opacity="0.78"/>
<line x1="462.4" y1="585.2" x2="462.4" y2="602.7" stroke="#008000" stroke-width="1.45" stroke-opacity="0.78"/>
<line x1="466.4" y1="585.2" x2="466.4" y2="602.7" stroke="#008000" stroke-width="1.45" stroke-opacity="0.78"/>
<line x1="471.5" y1="585.2" x2="471.5" y2="602.7" stroke="#008000" stroke-width="1.45" stroke-opacity="0.78"/>
<line x1="478.8" y1="585.2" x2="478.8" y2="602.7" stroke="#008000" stroke-width="1.45" stroke-opacity="0.78"/>
<line x1="88.55" y1="643.3" x2="88.55" y2="646.4" stroke="#6a6a6a" stroke-width="1.35"/>
<text x="88.55" y="655.7" font-size="8.3" text-anchor="middle" textLength="9.99" lengthAdjust="spacingAndGlyphs" fill="#2a2a2a" stroke="#2a2a2a" stroke-width="0.2">28</text>
<line x1="184.99" y1="643.3" x2="184.99" y2="646.4" stroke="#6a6a6a" stroke-width="1.35"/>
<text x="184.99" y="655.7" font-size="8.3" text-anchor="middle" textLength="9.99" lengthAdjust="spacingAndGlyphs" fill="#2a2a2a" stroke="#2a2a2a" stroke-width="0.2">30</text>
<line x1="281.43" y1="643.3" x2="281.43" y2="646.4" stroke="#6a6a6a" stroke-width="1.35"/>
<text x="281.43" y="655.7" font-size="8.3" text-anchor="middle" textLength="9.99" lengthAdjust="spacingAndGlyphs" fill="#2a2a2a" stroke="#2a2a2a" stroke-width="0.2">32</text>
<line x1="377.87" y1="643.3" x2="377.87" y2="646.4" stroke="#6a6a6a" stroke-width="1.35"/>
<text x="377.87" y="655.7" font-size="8.3" text-anchor="middle" textLength="9.99" lengthAdjust="spacingAndGlyphs" fill="#2a2a2a" stroke="#2a2a2a" stroke-width="0.2">34</text>
<line x1="474.31" y1="643.3" x2="474.31" y2="646.4" stroke="#6a6a6a" stroke-width="1.35"/>
<text x="474.31" y="655.7" font-size="8.3" text-anchor="middle" textLength="9.99" lengthAdjust="spacingAndGlyphs" fill="#2a2a2a" stroke="#2a2a2a" stroke-width="0.2">36</text>
<line x1="570.75" y1="643.3" x2="570.75" y2="646.4" stroke="#6a6a6a" stroke-width="1.35"/>
<text x="570.75" y="655.7" font-size="8.3" text-anchor="middle" textLength="9.99" lengthAdjust="spacingAndGlyphs" fill="#2a2a2a" stroke="#2a2a2a" stroke-width="0.2">38</text>
<line x1="667.19" y1="643.3" x2="667.19" y2="646.4" stroke="#6a6a6a" stroke-width="1.35"/>
<text x="667.19" y="655.7" font-size="8.3" text-anchor="middle" textLength="9.99" lengthAdjust="spacingAndGlyphs" fill="#2a2a2a" stroke="#2a2a2a" stroke-width="0.2">40</text>
<line x1="48.3" y1="642.7" x2="51.4" y2="642.7" stroke="#6a6a6a" stroke-width="1.35"/>
<text x="44.9" y="645.6" font-size="8.3" text-anchor="end" textLength="17.48" lengthAdjust="spacingAndGlyphs" fill="#2a2a2a" stroke="#2a2a2a" stroke-width="0.2">0.00</text>
<line x1="48.3" y1="617" x2="51.4" y2="617" stroke="#6a6a6a" stroke-width="1.35"/>
<text x="44.9" y="619.9" font-size="8.3" text-anchor="end" textLength="17.48" lengthAdjust="spacingAndGlyphs" fill="#2a2a2a" stroke="#2a2a2a" stroke-width="0.2">0.25</text>
<line x1="48.3" y1="591.3" x2="51.4" y2="591.3" stroke="#6a6a6a" stroke-width="1.35"/>
<text x="44.9" y="594.2" font-size="8.3" text-anchor="end" textLength="17.48" lengthAdjust="spacingAndGlyphs" fill="#2a2a2a" stroke="#2a2a2a" stroke-width="0.2">0.50</text>
<line x1="48.3" y1="565.6" x2="51.4" y2="565.6" stroke="#6a6a6a" stroke-width="1.35"/>
<text x="44.9" y="568.5" font-size="8.3" text-anchor="end" textLength="17.48" lengthAdjust="spacingAndGlyphs" fill="#2a2a2a" stroke="#2a2a2a" stroke-width="0.2">0.75</text>
<line x1="48.3" y1="539.9" x2="51.4" y2="539.9" stroke="#6a6a6a" stroke-width="1.35"/>
<text x="44.9" y="542.8" font-size="8.3" text-anchor="end" textLength="17.48" lengthAdjust="spacingAndGlyphs" fill="#2a2a2a" stroke="#2a2a2a" stroke-width="0.2">1.00</text>
<line x1="48.3" y1="514.2" x2="51.4" y2="514.2" stroke="#6a6a6a" stroke-width="1.35"/>
<text x="44.9" y="517.1" font-size="8.3" text-anchor="end" textLength="17.48" lengthAdjust="spacingAndGlyphs" fill="#2a2a2a" stroke="#2a2a2a" stroke-width="0.2">1.25</text>
<line x1="48.3" y1="488.5" x2="51.4" y2="488.5" stroke="#6a6a6a" stroke-width="1.35"/>
<text x="44.9" y="491.4" font-size="8.3" text-anchor="end" textLength="17.48" lengthAdjust="spacingAndGlyphs" fill="#2a2a2a" stroke="#2a2a2a" stroke-width="0.2">1.50</text>
<line x1="48.3" y1="462.8" x2="51.4" y2="462.8" stroke="#6a6a6a" stroke-width="1.35"/>
<text x="44.9" y="465.7" font-size="8.3" text-anchor="end" textLength="17.48" lengthAdjust="spacingAndGlyphs" fill="#2a2a2a" stroke="#2a2a2a" stroke-width="0.2">1.75</text>
<text x="366.3" y="666.3" font-size="8.3" text-anchor="middle" textLength="140.14" lengthAdjust="spacingAndGlyphs" fill="#2a2a2a" stroke="#2a2a2a" stroke-width="0.2">Mean temperature, degrees Celsius</text>
<text x="22.5" y="548.6" font-size="8.3" text-anchor="middle" textLength="135.33" lengthAdjust="spacingAndGlyphs" fill="#2a2a2a" stroke="#2a2a2a" stroke-width="0.2" transform="rotate(-90 22.5 548.6)">P(X) of mean temperature feature</text>
<rect x="55.4" y="455.5" width="214" height="72.5" rx="2.2" fill="#ffffff" fill-opacity="0.8" stroke="#d6d6d6" stroke-width="0.8"/>
<rect x="58.6" y="459.6" width="15.6" height="5.4" fill="#dc143c" fill-opacity="0.25" stroke="#dc143c" stroke-width="1.1" stroke-opacity="0.75"/>
<text x="80.1" y="464.95" font-size="8.3" text-anchor="start" textLength="52.21" lengthAdjust="spacingAndGlyphs" fill="#2a2a2a" stroke="#2a2a2a" stroke-width="0.2">Hospital data</text>
<rect x="58.6" y="471.4" width="15.6" height="5.4" fill="#32cd32" fill-opacity="0.25" stroke="#32cd32" stroke-width="1.1" stroke-opacity="0.75"/>
<text x="80.1" y="476.75" font-size="8.3" text-anchor="start" textLength="80.56" lengthAdjust="spacingAndGlyphs" fill="#2a2a2a" stroke="#2a2a2a" stroke-width="0.2">Wearable sleep data</text>
<rect x="58.6" y="483.3" width="15.6" height="5.4" fill="#0000ff" fill-opacity="0.25" stroke="#0000ff" stroke-width="1.1" stroke-opacity="0.75"/>
<text x="80.1" y="488.65" font-size="8.3" text-anchor="start" textLength="131.03" lengthAdjust="spacingAndGlyphs" fill="#2a2a2a" stroke="#2a2a2a" stroke-width="0.2">Transformed wearable sleep data</text>
<line x1="58.2" y1="497.8" x2="74.4" y2="497.8" stroke="#ff0000" stroke-width="1.5" stroke-opacity="0.72"/>
<text x="80.1" y="500.45" font-size="8.3" text-anchor="start" textLength="106.24" lengthAdjust="spacingAndGlyphs" fill="#2a2a2a" stroke="#2a2a2a" stroke-width="0.2">Percentiles in hospital data</text>
<line x1="58.2" y1="509.7" x2="74.4" y2="509.7" stroke="#008000" stroke-width="1.5" stroke-opacity="0.72"/>
<text x="80.1" y="512.35" font-size="8.3" text-anchor="start" textLength="134.64" lengthAdjust="spacingAndGlyphs" fill="#2a2a2a" stroke="#2a2a2a" stroke-width="0.2">Percentiles in wearable sleep data</text>
<line x1="58.2" y1="521.5" x2="74.4" y2="521.5" stroke="#0000ff" stroke-width="1.5" stroke-opacity="0.72"/>
<text x="80.1" y="524.15" font-size="8.3" text-anchor="start" textLength="185.43" lengthAdjust="spacingAndGlyphs" fill="#2a2a2a" stroke="#2a2a2a" stroke-width="0.2">Percentiles in transformed wearable sleep data</text>
<text transform="translate(1.86 15.7) scale(0.94 1)" x="0" y="0" font-size="19.8" fill="#000" stroke="#000" stroke-width="0.45">A</text>
<text transform="translate(1.9 239.6) scale(0.93 1)" x="0" y="0" font-size="19.8" fill="#000" stroke="#000" stroke-width="0.45">B</text>
<text transform="translate(1.75 464.3) scale(0.84 1)" x="0" y="0" font-size="19.8" fill="#000" stroke="#000" stroke-width="0.45">C</text>
</svg>
</body></html>
